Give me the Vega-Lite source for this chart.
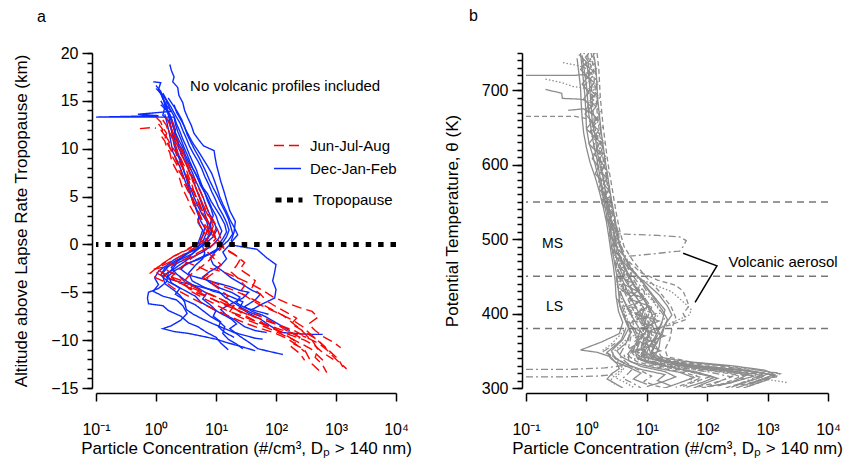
{
"$schema":"https://vega.github.io/schema/vega-lite/v6.json",
"padding":{"left":12,"top":8,"right":5,"bottom":5},
"bounds":"flush",
"spacing":130,
"resolve":{"scale":{"color":"independent","strokeDash":"independent"},"legend":{"color":"independent","strokeDash":"independent"}},
"config":{"font":"Liberation Sans","view":{"stroke":null},
"axis":{"domainColor":"black","domainWidth":1.5,"tickColor":"black","tickWidth":1.5,"labelColor":"black","titleColor":"black","labelFontSize":16,"titleFontSize":17,"titleFontWeight":"normal","grid":false,"labelFont":"Liberation Sans","titleFont":"Liberation Sans"},
"title":{"fontSize":16,"fontWeight":"normal","anchor":"start","font":"Liberation Sans"},
"legend":{"labelFont":"Liberation Sans"}},
"datasets":{
"left":[
{"p":"B1","s":"DJF","x":1.7,"y":18.8},{"p":"B1","s":"DJF","x":1.8,"y":18.2},{"p":"B1","s":"DJF","x":2.0,"y":17.5},{"p":"B1","s":"DJF","x":1.9,"y":17.0},{"p":"B1","s":"DJF","x":2.3,"y":16.4},{"p":"B1","s":"DJF","x":2.4,"y":15.6},{"p":"B1","s":"DJF","x":2.8,"y":14.8},{"p":"B1","s":"DJF","x":3.0,"y":14.0},{"p":"B1","s":"DJF","x":3.4,"y":13.2},{"p":"B1","s":"DJF","x":3.9,"y":12.4},{"p":"B1","s":"DJF","x":4.3,"y":11.6},{"p":"B1","s":"DJF","x":5.2,"y":10.9},{"p":"B1","s":"DJF","x":6.2,"y":10.3},{"p":"B1","s":"DJF","x":9.3,"y":9.8},{"p":"B1","s":"DJF","x":9.6,"y":9.2},{"p":"B1","s":"DJF","x":10.2,"y":8.3},{"p":"B1","s":"DJF","x":11,"y":7.5},{"p":"B1","s":"DJF","x":12,"y":6.6},{"p":"B1","s":"DJF","x":13.5,"y":5.6},{"p":"B1","s":"DJF","x":15,"y":4.6},{"p":"B1","s":"DJF","x":17,"y":3.5},{"p":"B1","s":"DJF","x":21,"y":2.4},{"p":"B1","s":"DJF","x":20,"y":1.3},{"p":"B1","s":"DJF","x":18,"y":0.4},{"p":"B1","s":"DJF","x":20,"y":-0.1},{"p":"B1","s":"DJF","x":30,"y":-0.3},{"p":"B1","s":"DJF","x":48,"y":-0.5},{"p":"B1","s":"DJF","x":70,"y":-1.4},{"p":"B1","s":"DJF","x":100,"y":-2.1},{"p":"B1","s":"DJF","x":95,"y":-2.9},{"p":"B1","s":"DJF","x":88,"y":-3.8},{"p":"B1","s":"DJF","x":100,"y":-4.7},{"p":"B1","s":"DJF","x":95,"y":-5.6},{"p":"B1","s":"DJF","x":60,"y":-6.2},{"p":"B1","s":"DJF","x":40,"y":-6.8},
{"p":"B2","s":"DJF","x":1.0,"y":16.3},{"p":"B2","s":"DJF","x":1.2,"y":15.8},{"p":"B2","s":"DJF","x":1.3,"y":15.2},{"p":"B2","s":"DJF","x":1.5,"y":14.5},{"p":"B2","s":"DJF","x":1.8,"y":13.9},{"p":"B2","s":"DJF","x":0.5,"y":13.6},{"p":"B2","s":"DJF","x":1.1,"y":13.45},{"p":"B2","s":"DJF","x":0.1,"y":13.3},{"p":"B2","s":"DJF","x":2.0,"y":13.3},{"p":"B2","s":"DJF","x":2.1,"y":12.6},{"p":"B2","s":"DJF","x":2.3,"y":11.8},{"p":"B2","s":"DJF","x":2.6,"y":11.0},{"p":"B2","s":"DJF","x":2.9,"y":10.2},{"p":"B2","s":"DJF","x":3.3,"y":9.4},{"p":"B2","s":"DJF","x":3.7,"y":8.6},{"p":"B2","s":"DJF","x":4.2,"y":7.8},{"p":"B2","s":"DJF","x":4.9,"y":7.0},{"p":"B2","s":"DJF","x":5.5,"y":6.2},{"p":"B2","s":"DJF","x":6.5,"y":5.4},{"p":"B2","s":"DJF","x":7.5,"y":4.6},{"p":"B2","s":"DJF","x":8.5,"y":3.8},{"p":"B2","s":"DJF","x":10,"y":3.0},{"p":"B2","s":"DJF","x":11,"y":2.2},{"p":"B2","s":"DJF","x":12.5,"y":1.4},{"p":"B2","s":"DJF","x":11,"y":0.6},{"p":"B2","s":"DJF","x":9,"y":0.0},{"p":"B2","s":"DJF","x":6,"y":-0.8},{"p":"B2","s":"DJF","x":3.5,"y":-1.5},{"p":"B2","s":"DJF","x":2.4,"y":-2.2},{"p":"B2","s":"DJF","x":1.6,"y":-3.0},{"p":"B2","s":"DJF","x":1.5,"y":-3.9},{"p":"B2","s":"DJF","x":1.1,"y":-4.6},{"p":"B2","s":"DJF","x":0.75,"y":-5.0},{"p":"B2","s":"DJF","x":0.72,"y":-5.6},{"p":"B2","s":"DJF","x":0.75,"y":-6.2},{"p":"B2","s":"DJF","x":1.3,"y":-6.4},{"p":"B2","s":"DJF","x":1.6,"y":-6.9},{"p":"B2","s":"DJF","x":2.6,"y":-7.5},{"p":"B2","s":"DJF","x":3.5,"y":-8.2},{"p":"B2","s":"DJF","x":5,"y":-8.6},{"p":"B2","s":"DJF","x":7,"y":-9.2},{"p":"B2","s":"DJF","x":10,"y":-9.7},{"p":"B2","s":"DJF","x":12,"y":-10.3},{"p":"B2","s":"DJF","x":16,"y":-11.0},
{"p":"B3","s":"DJF","x":0.9,"y":17.0},{"p":"B3","s":"DJF","x":1.2,"y":16.9},{"p":"B3","s":"DJF","x":1.1,"y":16.2},{"p":"B3","s":"DJF","x":1.3,"y":15.6},{"p":"B3","s":"DJF","x":1.5,"y":15.0},{"p":"B3","s":"DJF","x":1.4,"y":14.3},{"p":"B3","s":"DJF","x":1.7,"y":13.6},{"p":"B3","s":"DJF","x":1.9,"y":12.8},{"p":"B3","s":"DJF","x":2.1,"y":12.0},{"p":"B3","s":"DJF","x":2.0,"y":11.2},{"p":"B3","s":"DJF","x":2.4,"y":10.5},{"p":"B3","s":"DJF","x":2.8,"y":9.7},{"p":"B3","s":"DJF","x":3.1,"y":9.0},{"p":"B3","s":"DJF","x":3.6,"y":8.2},{"p":"B3","s":"DJF","x":4.1,"y":7.4},{"p":"B3","s":"DJF","x":4.7,"y":6.5},{"p":"B3","s":"DJF","x":5.4,"y":5.7},{"p":"B3","s":"DJF","x":6.2,"y":4.8},{"p":"B3","s":"DJF","x":6.8,"y":4.0},{"p":"B3","s":"DJF","x":7.8,"y":3.2},{"p":"B3","s":"DJF","x":9,"y":2.4},{"p":"B3","s":"DJF","x":10.5,"y":1.6},{"p":"B3","s":"DJF","x":9,"y":0.8},{"p":"B3","s":"DJF","x":7,"y":0.2},{"p":"B3","s":"DJF","x":5,"y":-0.5},{"p":"B3","s":"DJF","x":4,"y":-1.0},{"p":"B3","s":"DJF","x":3.2,"y":-1.5},{"p":"B3","s":"DJF","x":2.2,"y":-2.0},{"p":"B3","s":"DJF","x":1.8,"y":-2.7},{"p":"B3","s":"DJF","x":1.3,"y":-3.3},{"p":"B3","s":"DJF","x":1.4,"y":-4.1},{"p":"B3","s":"DJF","x":2.0,"y":-4.8},{"p":"B3","s":"DJF","x":2.5,"y":-5.3},{"p":"B3","s":"DJF","x":3.0,"y":-6.0},{"p":"B3","s":"DJF","x":3.2,"y":-6.8},{"p":"B3","s":"DJF","x":4.2,"y":-7.3},{"p":"B3","s":"DJF","x":6,"y":-7.8},{"p":"B3","s":"DJF","x":9,"y":-8.3},{"p":"B3","s":"DJF","x":14,"y":-8.8},{"p":"B3","s":"DJF","x":20,"y":-9.2},{"p":"B3","s":"DJF","x":30,"y":-9.5},{"p":"B3","s":"DJF","x":45,"y":-9.8},{"p":"B3","s":"DJF","x":60,"y":-9.9},
{"p":"B4","s":"DJF","x":1.1,"y":16.1},{"p":"B4","s":"DJF","x":1.3,"y":15.4},{"p":"B4","s":"DJF","x":1.4,"y":14.6},{"p":"B4","s":"DJF","x":1.6,"y":13.9},{"p":"B4","s":"DJF","x":1.8,"y":13.1},{"p":"B4","s":"DJF","x":1.9,"y":12.4},{"p":"B4","s":"DJF","x":2.1,"y":11.6},{"p":"B4","s":"DJF","x":2.3,"y":10.8},{"p":"B4","s":"DJF","x":2.4,"y":10.0},{"p":"B4","s":"DJF","x":2.8,"y":9.2},{"p":"B4","s":"DJF","x":3.2,"y":8.5},{"p":"B4","s":"DJF","x":3.6,"y":7.7},{"p":"B4","s":"DJF","x":4.1,"y":6.9},{"p":"B4","s":"DJF","x":4.5,"y":6.1},{"p":"B4","s":"DJF","x":5.0,"y":5.3},{"p":"B4","s":"DJF","x":5.6,"y":4.5},{"p":"B4","s":"DJF","x":6.2,"y":3.7},{"p":"B4","s":"DJF","x":6.8,"y":2.9},{"p":"B4","s":"DJF","x":7.8,"y":2.0},{"p":"B4","s":"DJF","x":8.5,"y":1.2},{"p":"B4","s":"DJF","x":7,"y":0.5},{"p":"B4","s":"DJF","x":6,"y":-0.2},{"p":"B4","s":"DJF","x":6.5,"y":-0.9},{"p":"B4","s":"DJF","x":6,"y":-1.5},{"p":"B4","s":"DJF","x":4.5,"y":-2.2},{"p":"B4","s":"DJF","x":3.5,"y":-3.0},{"p":"B4","s":"DJF","x":4.0,"y":-3.8},{"p":"B4","s":"DJF","x":6,"y":-4.4},{"p":"B4","s":"DJF","x":9,"y":-4.9},{"p":"B4","s":"DJF","x":14,"y":-5.2},{"p":"B4","s":"DJF","x":20,"y":-5.6},{"p":"B4","s":"DJF","x":28,"y":-6.0},{"p":"B4","s":"DJF","x":25,"y":-6.6},{"p":"B4","s":"DJF","x":35,"y":-7.2},{"p":"B4","s":"DJF","x":55,"y":-7.8},{"p":"B4","s":"DJF","x":80,"y":-8.5},{"p":"B4","s":"DJF","x":120,"y":-9.2},{"p":"B4","s":"DJF","x":200,"y":-9.3},{"p":"B4","s":"DJF","x":400,"y":-9.4},{"p":"B4","s":"DJF","x":600,"y":-9.4},
{"p":"B5","s":"DJF","x":1.0,"y":16.6},{"p":"B5","s":"DJF","x":1.2,"y":16.0},{"p":"B5","s":"DJF","x":1.3,"y":15.3},{"p":"B5","s":"DJF","x":1.5,"y":14.5},{"p":"B5","s":"DJF","x":1.6,"y":13.6},{"p":"B5","s":"DJF","x":1.7,"y":12.8},{"p":"B5","s":"DJF","x":1.8,"y":12.0},{"p":"B5","s":"DJF","x":2.0,"y":11.2},{"p":"B5","s":"DJF","x":2.1,"y":10.4},{"p":"B5","s":"DJF","x":2.3,"y":9.6},{"p":"B5","s":"DJF","x":2.6,"y":8.8},{"p":"B5","s":"DJF","x":2.8,"y":8.0},{"p":"B5","s":"DJF","x":3.1,"y":7.2},{"p":"B5","s":"DJF","x":3.4,"y":6.3},{"p":"B5","s":"DJF","x":3.7,"y":5.5},{"p":"B5","s":"DJF","x":4.0,"y":4.7},{"p":"B5","s":"DJF","x":4.6,"y":3.9},{"p":"B5","s":"DJF","x":5.2,"y":3.1},{"p":"B5","s":"DJF","x":5.0,"y":2.3},{"p":"B5","s":"DJF","x":6.0,"y":1.5},{"p":"B5","s":"DJF","x":5.5,"y":0.8},{"p":"B5","s":"DJF","x":5,"y":0.1},{"p":"B5","s":"DJF","x":4,"y":-0.6},{"p":"B5","s":"DJF","x":3,"y":-1.2},{"p":"B5","s":"DJF","x":2.0,"y":-1.8},{"p":"B5","s":"DJF","x":1.4,"y":-2.5},{"p":"B5","s":"DJF","x":1.2,"y":-3.2},{"p":"B5","s":"DJF","x":1.6,"y":-3.9},{"p":"B5","s":"DJF","x":2.3,"y":-4.4},{"p":"B5","s":"DJF","x":3.2,"y":-4.9},{"p":"B5","s":"DJF","x":4.5,"y":-5.4},{"p":"B5","s":"DJF","x":5.5,"y":-6.0},{"p":"B5","s":"DJF","x":8,"y":-6.6},{"p":"B5","s":"DJF","x":12,"y":-7.2},{"p":"B5","s":"DJF","x":18,"y":-7.8},{"p":"B5","s":"DJF","x":22,"y":-8.3},{"p":"B5","s":"DJF","x":17,"y":-8.8},{"p":"B5","s":"DJF","x":25,"y":-9.6},{"p":"B5","s":"DJF","x":35,"y":-10.2},{"p":"B5","s":"DJF","x":50,"y":-10.9},{"p":"B5","s":"DJF","x":80,"y":-11.2},{"p":"B5","s":"DJF","x":130,"y":-11.5},
{"p":"B6","s":"DJF","x":1.3,"y":15.8},{"p":"B6","s":"DJF","x":1.5,"y":15.1},{"p":"B6","s":"DJF","x":1.8,"y":14.3},{"p":"B6","s":"DJF","x":2.1,"y":13.5},{"p":"B6","s":"DJF","x":2.5,"y":12.7},{"p":"B6","s":"DJF","x":2.8,"y":11.9},{"p":"B6","s":"DJF","x":3.2,"y":11.1},{"p":"B6","s":"DJF","x":3.6,"y":10.3},{"p":"B6","s":"DJF","x":4.2,"y":9.5},{"p":"B6","s":"DJF","x":5.0,"y":8.7},{"p":"B6","s":"DJF","x":5.8,"y":7.9},{"p":"B6","s":"DJF","x":6.5,"y":7.1},{"p":"B6","s":"DJF","x":7.5,"y":6.3},{"p":"B6","s":"DJF","x":8.5,"y":5.5},{"p":"B6","s":"DJF","x":9.8,"y":4.7},{"p":"B6","s":"DJF","x":11,"y":3.9},{"p":"B6","s":"DJF","x":13,"y":3.1},{"p":"B6","s":"DJF","x":15,"y":2.3},{"p":"B6","s":"DJF","x":16.5,"y":1.5},{"p":"B6","s":"DJF","x":15,"y":0.8},{"p":"B6","s":"DJF","x":13,"y":0.2},{"p":"B6","s":"DJF","x":12,"y":-0.4},{"p":"B6","s":"DJF","x":8,"y":-1.0},{"p":"B6","s":"DJF","x":5,"y":-1.6},{"p":"B6","s":"DJF","x":3.2,"y":-2.0},{"p":"B6","s":"DJF","x":2.6,"y":-2.6},{"p":"B6","s":"DJF","x":3.5,"y":-3.2},{"p":"B6","s":"DJF","x":6,"y":-3.6},{"p":"B6","s":"DJF","x":10,"y":-4.0},{"p":"B6","s":"DJF","x":17,"y":-4.4},{"p":"B6","s":"DJF","x":25,"y":-4.8},{"p":"B6","s":"DJF","x":35,"y":-5.0},{"p":"B6","s":"DJF","x":28,"y":-5.6},{"p":"B6","s":"DJF","x":18,"y":-6.2},{"p":"B6","s":"DJF","x":12,"y":-6.8},{"p":"B6","s":"DJF","x":15,"y":-7.4},{"p":"B6","s":"DJF","x":22,"y":-8.0},{"p":"B6","s":"DJF","x":30,"y":-8.6},{"p":"B6","s":"DJF","x":45,"y":-9.0},{"p":"B6","s":"DJF","x":70,"y":-9.2},
{"p":"B7","s":"DJF","x":1.5,"y":15.0},{"p":"B7","s":"DJF","x":1.7,"y":14.2},{"p":"B7","s":"DJF","x":2.0,"y":13.4},{"p":"B7","s":"DJF","x":2.2,"y":12.6},{"p":"B7","s":"DJF","x":2.5,"y":11.8},{"p":"B7","s":"DJF","x":2.8,"y":11.0},{"p":"B7","s":"DJF","x":3.2,"y":10.2},{"p":"B7","s":"DJF","x":3.6,"y":9.4},{"p":"B7","s":"DJF","x":4.1,"y":8.6},{"p":"B7","s":"DJF","x":4.7,"y":7.8},{"p":"B7","s":"DJF","x":5.2,"y":7.0},{"p":"B7","s":"DJF","x":5.8,"y":6.2},{"p":"B7","s":"DJF","x":6.5,"y":5.4},{"p":"B7","s":"DJF","x":7.2,"y":4.6},{"p":"B7","s":"DJF","x":8.2,"y":3.8},{"p":"B7","s":"DJF","x":9,"y":3.0},{"p":"B7","s":"DJF","x":8,"y":2.2},{"p":"B7","s":"DJF","x":8.5,"y":1.4},{"p":"B7","s":"DJF","x":7,"y":0.6},{"p":"B7","s":"DJF","x":6,"y":0.0},{"p":"B7","s":"DJF","x":5,"y":-0.5},{"p":"B7","s":"DJF","x":3,"y":-1.0},{"p":"B7","s":"DJF","x":2.0,"y":-1.6},{"p":"B7","s":"DJF","x":1.5,"y":-2.2},{"p":"B7","s":"DJF","x":1.1,"y":-2.8},{"p":"B7","s":"DJF","x":0.95,"y":-3.5},{"p":"B7","s":"DJF","x":1.1,"y":-4.2},{"p":"B7","s":"DJF","x":0.9,"y":-4.9},{"p":"B7","s":"DJF","x":1.3,"y":-5.4},{"p":"B7","s":"DJF","x":2.2,"y":-5.8},{"p":"B7","s":"DJF","x":2.8,"y":-6.4},{"p":"B7","s":"DJF","x":3.3,"y":-7.2},{"p":"B7","s":"DJF","x":2.6,"y":-7.9},{"p":"B7","s":"DJF","x":1.8,"y":-8.5},{"p":"B7","s":"DJF","x":1.3,"y":-8.8},{"p":"B7","s":"DJF","x":2.0,"y":-9.1},{"p":"B7","s":"DJF","x":3.5,"y":-9.3},{"p":"B7","s":"DJF","x":6,"y":-9.6},{"p":"B7","s":"DJF","x":10,"y":-9.9},{"p":"B7","s":"DJF","x":16,"y":-10.3},{"p":"B7","s":"DJF","x":24,"y":-10.6},{"p":"B7","s":"DJF","x":35,"y":-10.9},{"p":"B7","s":"DJF","x":45,"y":-11.1},
{"p":"B8","s":"DJF","x":1.2,"y":14.6},{"p":"B8","s":"DJF","x":1.5,"y":14.0},{"p":"B8","s":"DJF","x":1.7,"y":13.3},{"p":"B8","s":"DJF","x":1.9,"y":12.5},{"p":"B8","s":"DJF","x":2.1,"y":11.7},{"p":"B8","s":"DJF","x":2.4,"y":10.9},{"p":"B8","s":"DJF","x":2.8,"y":10.1},{"p":"B8","s":"DJF","x":3.1,"y":9.3},{"p":"B8","s":"DJF","x":3.6,"y":8.5},{"p":"B8","s":"DJF","x":4.3,"y":7.7},{"p":"B8","s":"DJF","x":5.0,"y":6.9},{"p":"B8","s":"DJF","x":5.8,"y":6.1},{"p":"B8","s":"DJF","x":7.2,"y":5.3},{"p":"B8","s":"DJF","x":8.3,"y":4.5},{"p":"B8","s":"DJF","x":10,"y":3.7},{"p":"B8","s":"DJF","x":12,"y":2.9},{"p":"B8","s":"DJF","x":14,"y":2.1},{"p":"B8","s":"DJF","x":15,"y":1.3},{"p":"B8","s":"DJF","x":13,"y":0.6},{"p":"B8","s":"DJF","x":11,"y":0.0},{"p":"B8","s":"DJF","x":10,"y":-0.7},{"p":"B8","s":"DJF","x":8,"y":-1.4},{"p":"B8","s":"DJF","x":9,"y":-2.1},{"p":"B8","s":"DJF","x":13,"y":-2.8},{"p":"B8","s":"DJF","x":18,"y":-3.5},{"p":"B8","s":"DJF","x":28,"y":-4.2},{"p":"B8","s":"DJF","x":40,"y":-4.8},{"p":"B8","s":"DJF","x":55,"y":-5.2},{"p":"B8","s":"DJF","x":45,"y":-5.8},{"p":"B8","s":"DJF","x":30,"y":-6.5},{"p":"B8","s":"DJF","x":40,"y":-7.0},{"p":"B8","s":"DJF","x":60,"y":-7.4},{"p":"B8","s":"DJF","x":90,"y":-8.0},{"p":"B8","s":"DJF","x":130,"y":-8.6},{"p":"B8","s":"DJF","x":170,"y":-9.0},
{"p":"B9","s":"DJF","x":2.0,"y":14.6},{"p":"B9","s":"DJF","x":2.2,"y":13.8},{"p":"B9","s":"DJF","x":2.6,"y":13.0},{"p":"B9","s":"DJF","x":3.0,"y":12.3},{"p":"B9","s":"DJF","x":3.3,"y":11.5},{"p":"B9","s":"DJF","x":3.8,"y":10.7},{"p":"B9","s":"DJF","x":4.4,"y":9.9},{"p":"B9","s":"DJF","x":5.2,"y":9.1},{"p":"B9","s":"DJF","x":6.0,"y":8.3},{"p":"B9","s":"DJF","x":6.9,"y":7.5},{"p":"B9","s":"DJF","x":7.8,"y":6.7},{"p":"B9","s":"DJF","x":9,"y":5.9},{"p":"B9","s":"DJF","x":10.5,"y":5.1},{"p":"B9","s":"DJF","x":12,"y":4.3},{"p":"B9","s":"DJF","x":14,"y":3.5},{"p":"B9","s":"DJF","x":16,"y":2.7},{"p":"B9","s":"DJF","x":17.5,"y":1.9},{"p":"B9","s":"DJF","x":19,"y":1.1},{"p":"B9","s":"DJF","x":16,"y":0.4},{"p":"B9","s":"DJF","x":12,"y":-0.3},{"p":"B9","s":"DJF","x":8,"y":-0.9},{"p":"B9","s":"DJF","x":5,"y":-1.5},{"p":"B9","s":"DJF","x":3.2,"y":-2.1},{"p":"B9","s":"DJF","x":2.1,"y":-2.7},{"p":"B9","s":"DJF","x":1.6,"y":-3.3},{"p":"B9","s":"DJF","x":1.8,"y":-4.0},{"p":"B9","s":"DJF","x":2.5,"y":-4.6},{"p":"B9","s":"DJF","x":2.1,"y":-5.2},{"p":"B9","s":"DJF","x":3.0,"y":-5.8},{"p":"B9","s":"DJF","x":4.5,"y":-6.3},{"p":"B9","s":"DJF","x":6.0,"y":-6.9},{"p":"B9","s":"DJF","x":8,"y":-7.5},{"p":"B9","s":"DJF","x":11,"y":-8.0},{"p":"B9","s":"DJF","x":14,"y":-8.6},{"p":"B9","s":"DJF","x":13,"y":-9.3},{"p":"B9","s":"DJF","x":16,"y":-9.9},{"p":"B9","s":"DJF","x":22,"y":-10.4},{"p":"B9","s":"DJF","x":28,"y":-10.9},
{"p":"B10","s":"DJF","x":1.4,"y":13.6},{"p":"B10","s":"DJF","x":1.5,"y":12.9},{"p":"B10","s":"DJF","x":1.6,"y":12.1},{"p":"B10","s":"DJF","x":1.7,"y":11.3},{"p":"B10","s":"DJF","x":1.8,"y":10.5},{"p":"B10","s":"DJF","x":1.9,"y":9.7},{"p":"B10","s":"DJF","x":2.2,"y":8.9},{"p":"B10","s":"DJF","x":2.5,"y":8.1},{"p":"B10","s":"DJF","x":2.8,"y":7.3},{"p":"B10","s":"DJF","x":3.1,"y":6.5},{"p":"B10","s":"DJF","x":3.5,"y":5.7},{"p":"B10","s":"DJF","x":3.9,"y":4.9},{"p":"B10","s":"DJF","x":4.4,"y":4.1},{"p":"B10","s":"DJF","x":4.9,"y":3.3},{"p":"B10","s":"DJF","x":5.5,"y":2.5},{"p":"B10","s":"DJF","x":6.5,"y":1.7},{"p":"B10","s":"DJF","x":6,"y":0.9},{"p":"B10","s":"DJF","x":5.5,"y":0.3},{"p":"B10","s":"DJF","x":5,"y":-0.4},{"p":"B10","s":"DJF","x":4,"y":-1.0},{"p":"B10","s":"DJF","x":2.5,"y":-1.6},{"p":"B10","s":"DJF","x":1.6,"y":-2.3},{"p":"B10","s":"DJF","x":1.3,"y":-3.0},{"p":"B10","s":"DJF","x":1.6,"y":-3.6},{"p":"B10","s":"DJF","x":2.8,"y":-4.0},{"p":"B10","s":"DJF","x":4.5,"y":-4.3},{"p":"B10","s":"DJF","x":7,"y":-4.6},{"p":"B10","s":"DJF","x":11,"y":-4.9},{"p":"B10","s":"DJF","x":14,"y":-5.5},{"p":"B10","s":"DJF","x":20,"y":-6.1},{"p":"B10","s":"DJF","x":28,"y":-6.7},{"p":"B10","s":"DJF","x":40,"y":-7.2},{"p":"B10","s":"DJF","x":55,"y":-7.5},
{"p":"B11","s":"DJF","x":1.6,"y":15.3},{"p":"B11","s":"DJF","x":1.9,"y":14.6},{"p":"B11","s":"DJF","x":2.3,"y":13.8},{"p":"B11","s":"DJF","x":2.7,"y":13.0},{"p":"B11","s":"DJF","x":3.0,"y":12.2},{"p":"B11","s":"DJF","x":3.5,"y":11.4},{"p":"B11","s":"DJF","x":4.1,"y":10.6},{"p":"B11","s":"DJF","x":5.0,"y":9.8},{"p":"B11","s":"DJF","x":6.0,"y":9.0},{"p":"B11","s":"DJF","x":7.2,"y":8.2},{"p":"B11","s":"DJF","x":8.5,"y":7.4},{"p":"B11","s":"DJF","x":9.5,"y":6.6},{"p":"B11","s":"DJF","x":10.5,"y":5.8},{"p":"B11","s":"DJF","x":11.5,"y":5.0},{"p":"B11","s":"DJF","x":13,"y":4.2},{"p":"B11","s":"DJF","x":15,"y":3.4},{"p":"B11","s":"DJF","x":17,"y":2.6},{"p":"B11","s":"DJF","x":20,"y":1.8},{"p":"B11","s":"DJF","x":23,"y":1.0},{"p":"B11","s":"DJF","x":19,"y":0.4},{"p":"B11","s":"DJF","x":16,"y":-0.2},{"p":"B11","s":"DJF","x":13,"y":-0.8},{"p":"B11","s":"DJF","x":15,"y":-1.5},{"p":"B11","s":"DJF","x":12,"y":-2.2},{"p":"B11","s":"DJF","x":8,"y":-2.8},{"p":"B11","s":"DJF","x":6,"y":-3.4},{"p":"B11","s":"DJF","x":8,"y":-4.0},{"p":"B11","s":"DJF","x":12,"y":-4.6},{"p":"B11","s":"DJF","x":18,"y":-5.0},{"p":"B11","s":"DJF","x":25,"y":-5.5},{"p":"B11","s":"DJF","x":22,"y":-6.1},{"p":"B11","s":"DJF","x":30,"y":-6.6},{"p":"B11","s":"DJF","x":50,"y":-7.0},{"p":"B11","s":"DJF","x":75,"y":-7.3},
{"p":"B12","s":"DJF","x":1.2,"y":15.0},{"p":"B12","s":"DJF","x":1.4,"y":14.3},{"p":"B12","s":"DJF","x":1.3,"y":13.5},{"p":"B12","s":"DJF","x":1.7,"y":12.8},{"p":"B12","s":"DJF","x":1.8,"y":12.0},{"p":"B12","s":"DJF","x":1.9,"y":11.2},{"p":"B12","s":"DJF","x":2.0,"y":10.4},{"p":"B12","s":"DJF","x":2.2,"y":9.6},{"p":"B12","s":"DJF","x":2.5,"y":8.8},{"p":"B12","s":"DJF","x":2.8,"y":8.0},{"p":"B12","s":"DJF","x":3.1,"y":7.2},{"p":"B12","s":"DJF","x":3.5,"y":6.4},{"p":"B12","s":"DJF","x":3.9,"y":5.6},{"p":"B12","s":"DJF","x":4.4,"y":4.8},{"p":"B12","s":"DJF","x":5.0,"y":4.0},{"p":"B12","s":"DJF","x":5.8,"y":3.2},{"p":"B12","s":"DJF","x":7,"y":2.4},{"p":"B12","s":"DJF","x":7.5,"y":1.6},{"p":"B12","s":"DJF","x":6.5,"y":0.8},{"p":"B12","s":"DJF","x":6,"y":0.2},{"p":"B12","s":"DJF","x":4.5,"y":-0.5},{"p":"B12","s":"DJF","x":3,"y":-1.1},{"p":"B12","s":"DJF","x":2.3,"y":-1.7},{"p":"B12","s":"DJF","x":1.8,"y":-2.4},{"p":"B12","s":"DJF","x":2.2,"y":-3.1},{"p":"B12","s":"DJF","x":3.0,"y":-3.7},{"p":"B12","s":"DJF","x":4.0,"y":-4.2},{"p":"B12","s":"DJF","x":5.5,"y":-4.7},{"p":"B12","s":"DJF","x":7,"y":-5.1},{"p":"B12","s":"DJF","x":6,"y":-5.7},{"p":"B12","s":"DJF","x":8,"y":-6.3},{"p":"B12","s":"DJF","x":10,"y":-6.9},{"p":"B12","s":"DJF","x":9,"y":-7.5},{"p":"B12","s":"DJF","x":12,"y":-8.1},{"p":"B12","s":"DJF","x":11,"y":-8.6},{"p":"B12","s":"DJF","x":14,"y":-9.2},{"p":"B12","s":"DJF","x":20,"y":-9.7},
{"p":"R1","s":"JJA","x":1.0,"y":13.3},{"p":"R1","s":"JJA","x":1.2,"y":12.8},{"p":"R1","s":"JJA","x":1.3,"y":12.2},{"p":"R1","s":"JJA","x":1.5,"y":11.6},{"p":"R1","s":"JJA","x":1.4,"y":11.0},{"p":"R1","s":"JJA","x":1.6,"y":10.4},{"p":"R1","s":"JJA","x":1.8,"y":9.8},{"p":"R1","s":"JJA","x":1.9,"y":9.1},{"p":"R1","s":"JJA","x":2.2,"y":8.4},{"p":"R1","s":"JJA","x":2.4,"y":7.7},{"p":"R1","s":"JJA","x":2.8,"y":7.0},{"p":"R1","s":"JJA","x":3.0,"y":6.3},{"p":"R1","s":"JJA","x":3.4,"y":5.6},{"p":"R1","s":"JJA","x":3.9,"y":4.9},{"p":"R1","s":"JJA","x":4.2,"y":4.2},{"p":"R1","s":"JJA","x":4.8,"y":3.5},{"p":"R1","s":"JJA","x":5.5,"y":2.8},{"p":"R1","s":"JJA","x":6.2,"y":2.1},{"p":"R1","s":"JJA","x":7,"y":1.4},{"p":"R1","s":"JJA","x":6.5,"y":0.7},{"p":"R1","s":"JJA","x":8,"y":0.1},{"p":"R1","s":"JJA","x":6,"y":-0.6},{"p":"R1","s":"JJA","x":4,"y":-1.2},{"p":"R1","s":"JJA","x":2.5,"y":-1.8},{"p":"R1","s":"JJA","x":1.5,"y":-2.3},{"p":"R1","s":"JJA","x":0.9,"y":-2.6},{"p":"R1","s":"JJA","x":1.1,"y":-3.1},{"p":"R1","s":"JJA","x":1.8,"y":-3.6},{"p":"R1","s":"JJA","x":2.5,"y":-4.0},{"p":"R1","s":"JJA","x":3.5,"y":-4.5},{"p":"R1","s":"JJA","x":5,"y":-4.9},{"p":"R1","s":"JJA","x":7,"y":-5.4},{"p":"R1","s":"JJA","x":10,"y":-5.9},{"p":"R1","s":"JJA","x":15,"y":-6.4},{"p":"R1","s":"JJA","x":25,"y":-7.0},{"p":"R1","s":"JJA","x":40,"y":-7.5},{"p":"R1","s":"JJA","x":70,"y":-8.0},{"p":"R1","s":"JJA","x":120,"y":-8.5},{"p":"R1","s":"JJA","x":200,"y":-9.0},{"p":"R1","s":"JJA","x":300,"y":-9.6},{"p":"R1","s":"JJA","x":500,"y":-10.3},{"p":"R1","s":"JJA","x":700,"y":-11.0},{"p":"R1","s":"JJA","x":1000,"y":-12.0},{"p":"R1","s":"JJA","x":1500,"y":-13.0},
{"p":"R2","s":"JJA","x":1.3,"y":13.0},{"p":"R2","s":"JJA","x":1.5,"y":12.4},{"p":"R2","s":"JJA","x":1.6,"y":11.8},{"p":"R2","s":"JJA","x":1.9,"y":11.2},{"p":"R2","s":"JJA","x":2.0,"y":10.6},{"p":"R2","s":"JJA","x":2.2,"y":10.0},{"p":"R2","s":"JJA","x":2.3,"y":9.3},{"p":"R2","s":"JJA","x":2.6,"y":8.6},{"p":"R2","s":"JJA","x":2.9,"y":7.9},{"p":"R2","s":"JJA","x":3.3,"y":7.2},{"p":"R2","s":"JJA","x":3.6,"y":6.5},{"p":"R2","s":"JJA","x":4.0,"y":5.8},{"p":"R2","s":"JJA","x":4.6,"y":5.1},{"p":"R2","s":"JJA","x":5.2,"y":4.4},{"p":"R2","s":"JJA","x":5.8,"y":3.7},{"p":"R2","s":"JJA","x":6.5,"y":3.0},{"p":"R2","s":"JJA","x":7.5,"y":2.3},{"p":"R2","s":"JJA","x":8.5,"y":1.6},{"p":"R2","s":"JJA","x":9.5,"y":0.9},{"p":"R2","s":"JJA","x":10,"y":0.3},{"p":"R2","s":"JJA","x":12,"y":-0.5},{"p":"R2","s":"JJA","x":9,"y":-1.2},{"p":"R2","s":"JJA","x":7,"y":-1.9},{"p":"R2","s":"JJA","x":5,"y":-2.6},{"p":"R2","s":"JJA","x":3.5,"y":-3.3},{"p":"R2","s":"JJA","x":2.8,"y":-4.0},{"p":"R2","s":"JJA","x":3.5,"y":-4.6},{"p":"R2","s":"JJA","x":5,"y":-5.1},{"p":"R2","s":"JJA","x":8,"y":-5.6},{"p":"R2","s":"JJA","x":12,"y":-6.1},{"p":"R2","s":"JJA","x":20,"y":-6.5},{"p":"R2","s":"JJA","x":35,"y":-7.0},{"p":"R2","s":"JJA","x":60,"y":-7.6},{"p":"R2","s":"JJA","x":100,"y":-8.3},{"p":"R2","s":"JJA","x":150,"y":-9.0},{"p":"R2","s":"JJA","x":250,"y":-9.7},{"p":"R2","s":"JJA","x":200,"y":-10.4},{"p":"R2","s":"JJA","x":300,"y":-11.0},{"p":"R2","s":"JJA","x":350,"y":-11.8},{"p":"R2","s":"JJA","x":400,"y":-12.5},{"p":"R2","s":"JJA","x":550,"y":-13.3},
{"p":"R3","s":"JJA","x":1.1,"y":12.6},{"p":"R3","s":"JJA","x":1.3,"y":12.0},{"p":"R3","s":"JJA","x":1.2,"y":11.4},{"p":"R3","s":"JJA","x":1.4,"y":10.8},{"p":"R3","s":"JJA","x":1.5,"y":10.2},{"p":"R3","s":"JJA","x":1.7,"y":9.6},{"p":"R3","s":"JJA","x":1.8,"y":8.9},{"p":"R3","s":"JJA","x":2.0,"y":8.2},{"p":"R3","s":"JJA","x":2.3,"y":7.5},{"p":"R3","s":"JJA","x":2.5,"y":6.8},{"p":"R3","s":"JJA","x":2.7,"y":6.1},{"p":"R3","s":"JJA","x":3.0,"y":5.4},{"p":"R3","s":"JJA","x":3.4,"y":4.7},{"p":"R3","s":"JJA","x":3.7,"y":4.0},{"p":"R3","s":"JJA","x":4.3,"y":3.3},{"p":"R3","s":"JJA","x":5.0,"y":2.6},{"p":"R3","s":"JJA","x":5.5,"y":1.9},{"p":"R3","s":"JJA","x":6.5,"y":1.2},{"p":"R3","s":"JJA","x":5.5,"y":0.5},{"p":"R3","s":"JJA","x":4,"y":-0.2},{"p":"R3","s":"JJA","x":2.5,"y":-0.9},{"p":"R3","s":"JJA","x":1.6,"y":-1.6},{"p":"R3","s":"JJA","x":1.1,"y":-2.3},{"p":"R3","s":"JJA","x":0.8,"y":-3.0},{"p":"R3","s":"JJA","x":1.0,"y":-3.5},{"p":"R3","s":"JJA","x":1.5,"y":-4.0},{"p":"R3","s":"JJA","x":2.0,"y":-4.6},{"p":"R3","s":"JJA","x":3.0,"y":-5.2},{"p":"R3","s":"JJA","x":4.5,"y":-5.8},{"p":"R3","s":"JJA","x":7,"y":-6.4},{"p":"R3","s":"JJA","x":11,"y":-7.0},{"p":"R3","s":"JJA","x":18,"y":-7.6},{"p":"R3","s":"JJA","x":30,"y":-8.2},{"p":"R3","s":"JJA","x":50,"y":-8.7},{"p":"R3","s":"JJA","x":90,"y":-9.2},{"p":"R3","s":"JJA","x":150,"y":-9.8},{"p":"R3","s":"JJA","x":220,"y":-10.5},{"p":"R3","s":"JJA","x":300,"y":-11.2},
{"p":"R4","s":"JJA","x":1.5,"y":13.2},{"p":"R4","s":"JJA","x":1.7,"y":12.5},{"p":"R4","s":"JJA","x":1.8,"y":11.9},{"p":"R4","s":"JJA","x":2.1,"y":11.3},{"p":"R4","s":"JJA","x":2.3,"y":10.7},{"p":"R4","s":"JJA","x":2.5,"y":10.1},{"p":"R4","s":"JJA","x":2.8,"y":9.4},{"p":"R4","s":"JJA","x":3.0,"y":8.7},{"p":"R4","s":"JJA","x":3.4,"y":8.0},{"p":"R4","s":"JJA","x":3.8,"y":7.3},{"p":"R4","s":"JJA","x":4.1,"y":6.6},{"p":"R4","s":"JJA","x":4.6,"y":5.9},{"p":"R4","s":"JJA","x":5.2,"y":5.2},{"p":"R4","s":"JJA","x":5.7,"y":4.5},{"p":"R4","s":"JJA","x":6.5,"y":3.8},{"p":"R4","s":"JJA","x":7.5,"y":3.1},{"p":"R4","s":"JJA","x":8.5,"y":2.4},{"p":"R4","s":"JJA","x":10,"y":1.7},{"p":"R4","s":"JJA","x":9,"y":1.0},{"p":"R4","s":"JJA","x":11,"y":0.4},{"p":"R4","s":"JJA","x":14,"y":-0.4},{"p":"R4","s":"JJA","x":20,"y":-1.0},{"p":"R4","s":"JJA","x":25,"y":-1.6},{"p":"R4","s":"JJA","x":22,"y":-2.2},{"p":"R4","s":"JJA","x":18,"y":-2.9},{"p":"R4","s":"JJA","x":24,"y":-3.6},{"p":"R4","s":"JJA","x":30,"y":-4.3},{"p":"R4","s":"JJA","x":25,"y":-5.0},{"p":"R4","s":"JJA","x":35,"y":-5.6},{"p":"R4","s":"JJA","x":50,"y":-6.2},{"p":"R4","s":"JJA","x":80,"y":-6.8},{"p":"R4","s":"JJA","x":130,"y":-7.4},{"p":"R4","s":"JJA","x":200,"y":-8.0},{"p":"R4","s":"JJA","x":280,"y":-8.6},{"p":"R4","s":"JJA","x":350,"y":-9.2},{"p":"R4","s":"JJA","x":450,"y":-9.8},{"p":"R4","s":"JJA","x":600,"y":-10.5},{"p":"R4","s":"JJA","x":800,"y":-11.2},{"p":"R4","s":"JJA","x":1100,"y":-12.0},{"p":"R4","s":"JJA","x":1300,"y":-12.8},
{"p":"R5","s":"JJA","x":0.54,"y":12.1},{"p":"R5","s":"JJA","x":0.8,"y":12.2},{"p":"R5","s":"JJA","x":1.0,"y":12.15},
{"p":"R6","s":"JJA","x":1.7,"y":12.5},{"p":"R6","s":"JJA","x":1.9,"y":11.8},{"p":"R6","s":"JJA","x":2.0,"y":11.0},{"p":"R6","s":"JJA","x":2.3,"y":10.3},{"p":"R6","s":"JJA","x":2.5,"y":9.6},{"p":"R6","s":"JJA","x":2.9,"y":8.9},{"p":"R6","s":"JJA","x":3.3,"y":8.2},{"p":"R6","s":"JJA","x":3.6,"y":7.5},{"p":"R6","s":"JJA","x":4.0,"y":6.8},{"p":"R6","s":"JJA","x":4.5,"y":6.1},{"p":"R6","s":"JJA","x":5.0,"y":5.4},{"p":"R6","s":"JJA","x":5.6,"y":4.7},{"p":"R6","s":"JJA","x":6.1,"y":4.0},{"p":"R6","s":"JJA","x":7,"y":3.3},{"p":"R6","s":"JJA","x":8,"y":2.6},{"p":"R6","s":"JJA","x":9,"y":1.9},{"p":"R6","s":"JJA","x":8,"y":1.2},{"p":"R6","s":"JJA","x":10,"y":0.6},{"p":"R6","s":"JJA","x":8,"y":0.0},{"p":"R6","s":"JJA","x":6,"y":-0.7},{"p":"R6","s":"JJA","x":4,"y":-1.4},{"p":"R6","s":"JJA","x":3,"y":-2.1},{"p":"R6","s":"JJA","x":2.2,"y":-2.8},{"p":"R6","s":"JJA","x":1.8,"y":-3.4},{"p":"R6","s":"JJA","x":2.4,"y":-4.0},{"p":"R6","s":"JJA","x":3.5,"y":-4.4},{"p":"R6","s":"JJA","x":5,"y":-4.8},{"p":"R6","s":"JJA","x":8,"y":-5.2},{"p":"R6","s":"JJA","x":12,"y":-5.7},{"p":"R6","s":"JJA","x":16,"y":-6.2},{"p":"R6","s":"JJA","x":22,"y":-6.8},{"p":"R6","s":"JJA","x":30,"y":-7.4},{"p":"R6","s":"JJA","x":45,"y":-8.0},{"p":"R6","s":"JJA","x":70,"y":-8.5},{"p":"R6","s":"JJA","x":110,"y":-9.0},{"p":"R6","s":"JJA","x":180,"y":-9.5},{"p":"R6","s":"JJA","x":300,"y":-10.0},{"p":"R6","s":"JJA","x":450,"y":-10.6},{"p":"R6","s":"JJA","x":600,"y":-11.3},{"p":"R6","s":"JJA","x":900,"y":-12.0},
{"p":"R7","s":"JJA","x":1.2,"y":12.0},{"p":"R7","s":"JJA","x":1.4,"y":11.4},{"p":"R7","s":"JJA","x":1.6,"y":10.8},{"p":"R7","s":"JJA","x":1.7,"y":10.1},{"p":"R7","s":"JJA","x":2.0,"y":9.4},{"p":"R7","s":"JJA","x":2.2,"y":8.7},{"p":"R7","s":"JJA","x":2.5,"y":8.0},{"p":"R7","s":"JJA","x":2.7,"y":7.3},{"p":"R7","s":"JJA","x":3.1,"y":6.6},{"p":"R7","s":"JJA","x":3.5,"y":5.9},{"p":"R7","s":"JJA","x":3.9,"y":5.2},{"p":"R7","s":"JJA","x":4.3,"y":4.5},{"p":"R7","s":"JJA","x":4.9,"y":3.8},{"p":"R7","s":"JJA","x":5.4,"y":3.1},{"p":"R7","s":"JJA","x":6.0,"y":2.4},{"p":"R7","s":"JJA","x":7.2,"y":1.7},{"p":"R7","s":"JJA","x":8,"y":1.0},{"p":"R7","s":"JJA","x":7,"y":0.4},{"p":"R7","s":"JJA","x":4.5,"y":-0.3},{"p":"R7","s":"JJA","x":3,"y":-1.0},{"p":"R7","s":"JJA","x":2.0,"y":-1.6},{"p":"R7","s":"JJA","x":1.3,"y":-2.2},{"p":"R7","s":"JJA","x":1.6,"y":-2.8},{"p":"R7","s":"JJA","x":2.4,"y":-3.3},{"p":"R7","s":"JJA","x":3.0,"y":-3.9},{"p":"R7","s":"JJA","x":4.2,"y":-4.4},{"p":"R7","s":"JJA","x":6,"y":-4.9},{"p":"R7","s":"JJA","x":9,"y":-5.4},{"p":"R7","s":"JJA","x":14,"y":-5.9},{"p":"R7","s":"JJA","x":20,"y":-6.4},{"p":"R7","s":"JJA","x":17,"y":-7.0},{"p":"R7","s":"JJA","x":25,"y":-7.6},{"p":"R7","s":"JJA","x":40,"y":-8.1},{"p":"R7","s":"JJA","x":65,"y":-8.6},{"p":"R7","s":"JJA","x":100,"y":-9.1},{"p":"R7","s":"JJA","x":160,"y":-9.7},{"p":"R7","s":"JJA","x":250,"y":-10.3},{"p":"R7","s":"JJA","x":380,"y":-10.9},{"p":"R7","s":"JJA","x":500,"y":-11.6},{"p":"R7","s":"JJA","x":650,"y":-12.3},
{"p":"R8","s":"JJA","x":1.4,"y":11.5},{"p":"R8","s":"JJA","x":1.6,"y":10.9},{"p":"R8","s":"JJA","x":1.8,"y":10.3},{"p":"R8","s":"JJA","x":2.1,"y":9.7},{"p":"R8","s":"JJA","x":2.3,"y":9.0},{"p":"R8","s":"JJA","x":2.6,"y":8.3},{"p":"R8","s":"JJA","x":3.0,"y":7.6},{"p":"R8","s":"JJA","x":3.3,"y":6.9},{"p":"R8","s":"JJA","x":3.7,"y":6.2},{"p":"R8","s":"JJA","x":4.2,"y":5.5},{"p":"R8","s":"JJA","x":4.7,"y":4.8},{"p":"R8","s":"JJA","x":5.2,"y":4.1},{"p":"R8","s":"JJA","x":5.9,"y":3.4},{"p":"R8","s":"JJA","x":6.8,"y":2.7},{"p":"R8","s":"JJA","x":7.8,"y":2.0},{"p":"R8","s":"JJA","x":9,"y":1.3},{"p":"R8","s":"JJA","x":10,"y":0.6},{"p":"R8","s":"JJA","x":11,"y":0.0},{"p":"R8","s":"JJA","x":15,"y":-0.6},{"p":"R8","s":"JJA","x":22,"y":-1.2},{"p":"R8","s":"JJA","x":30,"y":-1.9},{"p":"R8","s":"JJA","x":25,"y":-2.6},{"p":"R8","s":"JJA","x":35,"y":-3.2},{"p":"R8","s":"JJA","x":45,"y":-3.8},{"p":"R8","s":"JJA","x":40,"y":-4.5},{"p":"R8","s":"JJA","x":55,"y":-5.2},{"p":"R8","s":"JJA","x":70,"y":-5.9},{"p":"R8","s":"JJA","x":100,"y":-6.5},{"p":"R8","s":"JJA","x":150,"y":-7.1},{"p":"R8","s":"JJA","x":220,"y":-7.7},{"p":"R8","s":"JJA","x":180,"y":-8.3},{"p":"R8","s":"JJA","x":260,"y":-8.9},{"p":"R8","s":"JJA","x":350,"y":-9.4},{"p":"R8","s":"JJA","x":500,"y":-10.0},{"p":"R8","s":"JJA","x":650,"y":-10.7},{"p":"R8","s":"JJA","x":800,"y":-11.4},
{"p":"R9","s":"JJA","x":1.8,"y":13.0},{"p":"R9","s":"JJA","x":2.0,"y":12.3},{"p":"R9","s":"JJA","x":1.9,"y":11.6},{"p":"R9","s":"JJA","x":2.2,"y":11.0},{"p":"R9","s":"JJA","x":2.5,"y":10.4},{"p":"R9","s":"JJA","x":2.8,"y":9.7},{"p":"R9","s":"JJA","x":3.1,"y":9.0},{"p":"R9","s":"JJA","x":3.5,"y":8.3},{"p":"R9","s":"JJA","x":3.9,"y":7.6},{"p":"R9","s":"JJA","x":4.3,"y":6.9},{"p":"R9","s":"JJA","x":4.8,"y":6.2},{"p":"R9","s":"JJA","x":5.5,"y":5.5},{"p":"R9","s":"JJA","x":6.2,"y":4.8},{"p":"R9","s":"JJA","x":6.8,"y":4.1},{"p":"R9","s":"JJA","x":7.5,"y":3.4},{"p":"R9","s":"JJA","x":8.7,"y":2.7},{"p":"R9","s":"JJA","x":10,"y":2.0},{"p":"R9","s":"JJA","x":11,"y":1.3},{"p":"R9","s":"JJA","x":12,"y":0.6},{"p":"R9","s":"JJA","x":9,"y":0.0},{"p":"R9","s":"JJA","x":7,"y":-0.7},{"p":"R9","s":"JJA","x":9,"y":-1.4},{"p":"R9","s":"JJA","x":12,"y":-2.1},{"p":"R9","s":"JJA","x":10,"y":-2.8},{"p":"R9","s":"JJA","x":7,"y":-3.5},{"p":"R9","s":"JJA","x":9,"y":-4.2},{"p":"R9","s":"JJA","x":12,"y":-4.8},{"p":"R9","s":"JJA","x":16,"y":-5.4},{"p":"R9","s":"JJA","x":12,"y":-6.0},{"p":"R9","s":"JJA","x":18,"y":-6.6},{"p":"R9","s":"JJA","x":28,"y":-7.1},{"p":"R9","s":"JJA","x":45,"y":-7.6},{"p":"R9","s":"JJA","x":60,"y":-8.2},{"p":"R9","s":"JJA","x":90,"y":-8.8},{"p":"R9","s":"JJA","x":140,"y":-9.4},{"p":"R9","s":"JJA","x":200,"y":-10.0},{"p":"R9","s":"JJA","x":180,"y":-10.7},{"p":"R9","s":"JJA","x":250,"y":-11.4},{"p":"R9","s":"JJA","x":300,"y":-12.1},
{"p":"R10","s":"JJA","x":1.6,"y":12.0},{"p":"R10","s":"JJA","x":1.8,"y":11.3},{"p":"R10","s":"JJA","x":2.0,"y":10.6},{"p":"R10","s":"JJA","x":2.2,"y":9.9},{"p":"R10","s":"JJA","x":2.5,"y":9.2},{"p":"R10","s":"JJA","x":2.8,"y":8.5},{"p":"R10","s":"JJA","x":3.2,"y":7.8},{"p":"R10","s":"JJA","x":3.5,"y":7.1},{"p":"R10","s":"JJA","x":3.9,"y":6.4},{"p":"R10","s":"JJA","x":4.2,"y":5.7},{"p":"R10","s":"JJA","x":4.7,"y":5.0},{"p":"R10","s":"JJA","x":5.3,"y":4.3},{"p":"R10","s":"JJA","x":5.6,"y":3.6},{"p":"R10","s":"JJA","x":6.5,"y":2.9},{"p":"R10","s":"JJA","x":7.3,"y":2.2},{"p":"R10","s":"JJA","x":8,"y":1.5},{"p":"R10","s":"JJA","x":7,"y":0.8},{"p":"R10","s":"JJA","x":5.5,"y":0.2},{"p":"R10","s":"JJA","x":3.5,"y":-0.5},{"p":"R10","s":"JJA","x":2.0,"y":-1.2},{"p":"R10","s":"JJA","x":1.4,"y":-1.9},{"p":"R10","s":"JJA","x":1.0,"y":-2.5},{"p":"R10","s":"JJA","x":1.3,"y":-3.0},{"p":"R10","s":"JJA","x":2.0,"y":-3.5},{"p":"R10","s":"JJA","x":3,"y":-3.9},{"p":"R10","s":"JJA","x":4,"y":-4.3},{"p":"R10","s":"JJA","x":3.6,"y":-4.8},{"p":"R10","s":"JJA","x":5,"y":-5.3},{"p":"R10","s":"JJA","x":7,"y":-5.8},{"p":"R10","s":"JJA","x":10,"y":-6.3},{"p":"R10","s":"JJA","x":15,"y":-6.9},{"p":"R10","s":"JJA","x":25,"y":-7.4},{"p":"R10","s":"JJA","x":40,"y":-7.9},{"p":"R10","s":"JJA","x":70,"y":-8.4},{"p":"R10","s":"JJA","x":120,"y":-8.9},{"p":"R10","s":"JJA","x":200,"y":-9.3},{"p":"R10","s":"JJA","x":320,"y":-9.7},
{"p":"R11","s":"JJA","x":8,"y":-2.5},{"p":"R11","s":"JJA","x":15,"y":-3.0},{"p":"R11","s":"JJA","x":25,"y":-3.6},{"p":"R11","s":"JJA","x":40,"y":-4.2},{"p":"R11","s":"JJA","x":60,"y":-4.8},{"p":"R11","s":"JJA","x":90,"y":-5.5},{"p":"R11","s":"JJA","x":150,"y":-6.1},{"p":"R11","s":"JJA","x":250,"y":-6.6},{"p":"R11","s":"JJA","x":400,"y":-7.0},{"p":"R11","s":"JJA","x":500,"y":-7.6},{"p":"R11","s":"JJA","x":350,"y":-8.3},{"p":"R11","s":"JJA","x":450,"y":-9.0},{"p":"R11","s":"JJA","x":600,"y":-9.6},{"p":"R11","s":"JJA","x":900,"y":-10.2},{"p":"R11","s":"JJA","x":1200,"y":-10.8},
{"p":"R12","s":"JJA","x":3,"y":-1.8},{"p":"R12","s":"JJA","x":5,"y":-2.3},{"p":"R12","s":"JJA","x":8,"y":-2.9},{"p":"R12","s":"JJA","x":6,"y":-3.5},{"p":"R12","s":"JJA","x":10,"y":-4.1},{"p":"R12","s":"JJA","x":18,"y":-4.7},{"p":"R12","s":"JJA","x":30,"y":-5.3},{"p":"R12","s":"JJA","x":50,"y":-6.0},{"p":"R12","s":"JJA","x":80,"y":-6.7},{"p":"R12","s":"JJA","x":130,"y":-7.4},{"p":"R12","s":"JJA","x":180,"y":-8.1},{"p":"R12","s":"JJA","x":250,"y":-8.8},{"p":"R12","s":"JJA","x":320,"y":-9.5},{"p":"R12","s":"JJA","x":420,"y":-10.2},{"p":"R12","s":"JJA","x":500,"y":-11.0},{"p":"R12","s":"JJA","x":450,"y":-11.8},{"p":"R12","s":"JJA","x":600,"y":-12.6},{"p":"R12","s":"JJA","x":700,"y":-13.4}
],
"right":[
{"p":"U1","g":"A","x":0.8,"y":750},{"p":"U1","g":"A","x":0.85,"y":730},{"p":"U1","g":"A","x":0.9,"y":710},{"p":"U1","g":"A","x":0.95,"y":690},{"p":"U1","g":"A","x":0.98,"y":670},{"p":"U1","g":"A","x":1.0,"y":650},{"p":"U1","g":"A","x":1.1,"y":630},{"p":"U1","g":"A","x":1.3,"y":610},{"p":"U1","g":"A","x":1.5,"y":590},{"p":"U1","g":"A","x":1.75,"y":570},{"p":"U1","g":"A","x":1.95,"y":550},{"p":"U1","g":"A","x":2.2,"y":530},{"p":"U1","g":"A","x":2.45,"y":510},{"p":"U1","g":"A","x":2.6,"y":490},{"p":"U1","g":"A","x":2.9,"y":470},{"p":"U1","g":"A","x":3.2,"y":450},{"p":"U1","g":"A","x":3.4,"y":430},{"p":"U1","g":"A","x":3.6,"y":410},{"p":"U1","g":"A","x":4.2,"y":395},{"p":"U1","g":"A","x":5,"y":380},{"p":"U1","g":"A","x":4,"y":365},{"p":"U1","g":"A","x":2.6,"y":350},{"p":"U1","g":"A","x":3,"y":340},{"p":"U1","g":"A","x":4.5,"y":332},{"p":"U1","g":"A","x":8,"y":325},{"p":"U1","g":"A","x":20,"y":318},{"p":"U1","g":"A","x":15,"y":310},{"p":"U1","g":"A","x":25,"y":303},
{"p":"U2","g":"B","x":1.05,"y":748},{"p":"U2","g":"B","x":1.1,"y":728},{"p":"U2","g":"B","x":1.2,"y":708},{"p":"U2","g":"B","x":1.25,"y":688},{"p":"U2","g":"B","x":1.3,"y":668},{"p":"U2","g":"B","x":1.4,"y":648},{"p":"U2","g":"B","x":1.55,"y":628},{"p":"U2","g":"B","x":1.7,"y":608},{"p":"U2","g":"B","x":1.85,"y":588},{"p":"U2","g":"B","x":2.05,"y":568},{"p":"U2","g":"B","x":2.3,"y":548},{"p":"U2","g":"B","x":2.6,"y":528},{"p":"U2","g":"B","x":2.9,"y":508},{"p":"U2","g":"B","x":3.2,"y":488},{"p":"U2","g":"B","x":3.8,"y":468},{"p":"U2","g":"B","x":5,"y":448},{"p":"U2","g":"B","x":8,"y":428},{"p":"U2","g":"B","x":12,"y":408},{"p":"U2","g":"B","x":10,"y":393},{"p":"U2","g":"B","x":12,"y":378},{"p":"U2","g":"B","x":9,"y":363},{"p":"U2","g":"B","x":7,"y":348},{"p":"U2","g":"B","x":8,"y":338},{"p":"U2","g":"B","x":15,"y":330},{"p":"U2","g":"B","x":40,"y":323},{"p":"U2","g":"B","x":120,"y":316},{"p":"U2","g":"B","x":60,"y":308},{"p":"U2","g":"B","x":40,"y":302},
{"p":"U3","g":"A","x":1.35,"y":745},{"p":"U3","g":"A","x":1.45,"y":725},{"p":"U3","g":"A","x":1.5,"y":705},{"p":"U3","g":"A","x":1.55,"y":685},{"p":"U3","g":"A","x":1.65,"y":665},{"p":"U3","g":"A","x":1.75,"y":645},{"p":"U3","g":"A","x":1.9,"y":625},{"p":"U3","g":"A","x":2.05,"y":605},{"p":"U3","g":"A","x":2.25,"y":585},{"p":"U3","g":"A","x":2.45,"y":565},{"p":"U3","g":"A","x":2.7,"y":545},{"p":"U3","g":"A","x":3.0,"y":525},{"p":"U3","g":"A","x":3.3,"y":505},{"p":"U3","g":"A","x":3.8,"y":485},{"p":"U3","g":"A","x":5,"y":465},{"p":"U3","g":"A","x":8,"y":445},{"p":"U3","g":"A","x":12,"y":425},{"p":"U3","g":"A","x":18,"y":405},{"p":"U3","g":"A","x":22,"y":392},{"p":"U3","g":"A","x":18,"y":377},{"p":"U3","g":"A","x":15,"y":362},{"p":"U3","g":"A","x":12,"y":348},{"p":"U3","g":"A","x":15,"y":338},{"p":"U3","g":"A","x":40,"y":330},{"p":"U3","g":"A","x":200,"y":323},{"p":"U3","g":"A","x":600,"y":316},{"p":"U3","g":"A","x":300,"y":309},{"p":"U3","g":"A","x":150,"y":303},
{"p":"U4","g":"C","x":0.9,"y":750},{"p":"U4","g":"C","x":1.3,"y":735},{"p":"U4","g":"C","x":0.95,"y":720},{"p":"U4","g":"C","x":1.4,"y":700},{"p":"U4","g":"C","x":1.05,"y":680},{"p":"U4","g":"C","x":1.5,"y":660},{"p":"U4","g":"C","x":1.2,"y":640},{"p":"U4","g":"C","x":1.8,"y":620},{"p":"U4","g":"C","x":1.5,"y":600},{"p":"U4","g":"C","x":2.2,"y":580},{"p":"U4","g":"C","x":1.8,"y":560},{"p":"U4","g":"C","x":2.6,"y":540},{"p":"U4","g":"C","x":2.3,"y":520},{"p":"U4","g":"C","x":3.2,"y":500},{"p":"U4","g":"C","x":2.8,"y":480},{"p":"U4","g":"C","x":4.5,"y":460},{"p":"U4","g":"C","x":3.5,"y":440},{"p":"U4","g":"C","x":8,"y":420},{"p":"U4","g":"C","x":5,"y":400},{"p":"U4","g":"C","x":12,"y":385},{"p":"U4","g":"C","x":6,"y":370},{"p":"U4","g":"C","x":10,"y":355},{"p":"U4","g":"C","x":4,"y":343},{"p":"U4","g":"C","x":12,"y":334},{"p":"U4","g":"C","x":30,"y":327},{"p":"U4","g":"C","x":80,"y":320},{"p":"U4","g":"C","x":50,"y":312},{"p":"U4","g":"C","x":100,"y":305},
{"p":"U5","g":"B","x":1.2,"y":750},{"p":"U5","g":"B","x":1.3,"y":732},{"p":"U5","g":"B","x":1.35,"y":712},{"p":"U5","g":"B","x":1.45,"y":692},{"p":"U5","g":"B","x":1.5,"y":672},{"p":"U5","g":"B","x":1.6,"y":652},{"p":"U5","g":"B","x":1.7,"y":632},{"p":"U5","g":"B","x":1.85,"y":612},{"p":"U5","g":"B","x":2.05,"y":592},{"p":"U5","g":"B","x":2.25,"y":572},{"p":"U5","g":"B","x":2.5,"y":552},{"p":"U5","g":"B","x":2.8,"y":532},{"p":"U5","g":"B","x":3.1,"y":512},{"p":"U5","g":"B","x":3.5,"y":492},{"p":"U5","g":"B","x":4.2,"y":472},{"p":"U5","g":"B","x":5.5,"y":452},{"p":"U5","g":"B","x":7.5,"y":432},{"p":"U5","g":"B","x":10,"y":412},{"p":"U5","g":"B","x":12,"y":397},{"p":"U5","g":"B","x":10,"y":382},{"p":"U5","g":"B","x":9,"y":367},{"p":"U5","g":"B","x":8,"y":352},{"p":"U5","g":"B","x":9,"y":342},{"p":"U5","g":"B","x":20,"y":334},{"p":"U5","g":"B","x":60,"y":327},{"p":"U5","g":"B","x":250,"y":320},{"p":"U5","g":"B","x":400,"y":313},{"p":"U5","g":"B","x":200,"y":306},{"p":"U5","g":"B","x":80,"y":300},
{"p":"U6","g":"A","x":0.85,"y":747},{"p":"U6","g":"A","x":0.92,"y":727},{"p":"U6","g":"A","x":1.0,"y":707},{"p":"U6","g":"A","x":1.05,"y":687},{"p":"U6","g":"A","x":1.1,"y":667},{"p":"U6","g":"A","x":1.2,"y":647},{"p":"U6","g":"A","x":1.32,"y":627},{"p":"U6","g":"A","x":1.5,"y":607},{"p":"U6","g":"A","x":1.65,"y":587},{"p":"U6","g":"A","x":1.85,"y":567},{"p":"U6","g":"A","x":2.1,"y":547},{"p":"U6","g":"A","x":2.4,"y":527},{"p":"U6","g":"A","x":2.6,"y":507},{"p":"U6","g":"A","x":2.9,"y":487},{"p":"U6","g":"A","x":3.3,"y":467},{"p":"U6","g":"A","x":4.2,"y":447},{"p":"U6","g":"A","x":6,"y":427},{"p":"U6","g":"A","x":9,"y":407},{"p":"U6","g":"A","x":8,"y":392},{"p":"U6","g":"A","x":10,"y":377},{"p":"U6","g":"A","x":7,"y":362},{"p":"U6","g":"A","x":5,"y":347},{"p":"U6","g":"A","x":5,"y":337},{"p":"U6","g":"A","x":8,"y":329},{"p":"U6","g":"A","x":20,"y":322},{"p":"U6","g":"A","x":30,"y":315},{"p":"U6","g":"A","x":18,"y":308},{"p":"U6","g":"A","x":10,"y":302},
{"p":"U7","g":"D","x":1.3,"y":750},{"p":"U7","g":"D","x":1.4,"y":730},{"p":"U7","g":"D","x":1.45,"y":710},{"p":"U7","g":"D","x":1.5,"y":690},{"p":"U7","g":"D","x":1.6,"y":670},{"p":"U7","g":"D","x":1.7,"y":650},{"p":"U7","g":"D","x":1.8,"y":630},{"p":"U7","g":"D","x":1.95,"y":610},{"p":"U7","g":"D","x":2.15,"y":590},{"p":"U7","g":"D","x":2.35,"y":570},{"p":"U7","g":"D","x":2.6,"y":550},{"p":"U7","g":"D","x":2.9,"y":530},{"p":"U7","g":"D","x":3.3,"y":510},{"p":"U7","g":"D","x":3.8,"y":490},{"p":"U7","g":"D","x":4.8,"y":470},{"p":"U7","g":"D","x":7,"y":450},{"p":"U7","g":"D","x":10,"y":430},{"p":"U7","g":"D","x":15,"y":410},{"p":"U7","g":"D","x":20,"y":395},{"p":"U7","g":"D","x":16,"y":380},{"p":"U7","g":"D","x":14,"y":365},{"p":"U7","g":"D","x":12,"y":350},{"p":"U7","g":"D","x":14,"y":340},{"p":"U7","g":"D","x":35,"y":332},{"p":"U7","g":"D","x":150,"y":325},{"p":"U7","g":"D","x":800,"y":318},{"p":"U7","g":"D","x":500,"y":311},{"p":"U7","g":"D","x":300,"y":304},
{"p":"U8","g":"A","x":0.7,"y":743},{"p":"U8","g":"A","x":0.75,"y":723},{"p":"U8","g":"A","x":0.8,"y":703},{"p":"U8","g":"A","x":0.82,"y":683},{"p":"U8","g":"A","x":0.85,"y":663},{"p":"U8","g":"A","x":0.9,"y":643},{"p":"U8","g":"A","x":1.0,"y":623},{"p":"U8","g":"A","x":1.15,"y":603},{"p":"U8","g":"A","x":1.4,"y":583},{"p":"U8","g":"A","x":1.65,"y":563},{"p":"U8","g":"A","x":1.9,"y":543},{"p":"U8","g":"A","x":2.15,"y":523},{"p":"U8","g":"A","x":2.35,"y":503},{"p":"U8","g":"A","x":2.55,"y":483},{"p":"U8","g":"A","x":2.8,"y":463},{"p":"U8","g":"A","x":3.0,"y":443},{"p":"U8","g":"A","x":3.1,"y":423},{"p":"U8","g":"A","x":3.4,"y":403},{"p":"U8","g":"A","x":4,"y":388},{"p":"U8","g":"A","x":3.5,"y":373},{"p":"U8","g":"A","x":1.8,"y":362},{"p":"U8","g":"A","x":0.8,"y":351},{"p":"U8","g":"A","x":1.5,"y":348},{"p":"U8","g":"A","x":2.5,"y":342},{"p":"U8","g":"A","x":3,"y":335},{"p":"U8","g":"A","x":5,"y":328},{"p":"U8","g":"A","x":8,"y":320},{"p":"U8","g":"A","x":6,"y":312},{"p":"U8","g":"A","x":10,"y":305},
{"p":"U9","g":"B","x":1.5,"y":750},{"p":"U9","g":"B","x":1.6,"y":730},{"p":"U9","g":"B","x":1.65,"y":710},{"p":"U9","g":"B","x":1.7,"y":690},{"p":"U9","g":"B","x":1.8,"y":670},{"p":"U9","g":"B","x":1.9,"y":650},{"p":"U9","g":"B","x":2.05,"y":630},{"p":"U9","g":"B","x":2.2,"y":610},{"p":"U9","g":"B","x":2.4,"y":590},{"p":"U9","g":"B","x":2.65,"y":570},{"p":"U9","g":"B","x":2.9,"y":550},{"p":"U9","g":"B","x":3.2,"y":530},{"p":"U9","g":"B","x":3.6,"y":510},{"p":"U9","g":"B","x":4.2,"y":490},{"p":"U9","g":"B","x":6,"y":470},{"p":"U9","g":"B","x":9.5,"y":450},{"p":"U9","g":"B","x":16,"y":430},{"p":"U9","g":"B","x":25,"y":410},{"p":"U9","g":"B","x":30,"y":395},{"p":"U9","g":"B","x":26,"y":380},{"p":"U9","g":"B","x":24,"y":365},{"p":"U9","g":"B","x":20,"y":352},{"p":"U9","g":"B","x":22,"y":342},{"p":"U9","g":"B","x":60,"y":334},{"p":"U9","g":"B","x":400,"y":327},{"p":"U9","g":"B","x":1500,"y":320},{"p":"U9","g":"B","x":1400,"y":315},{"p":"U9","g":"B","x":700,"y":310},{"p":"U9","g":"B","x":450,"y":303},
{"p":"U10","g":"A","x":1.0,"y":738},{"p":"U10","g":"A","x":1.1,"y":718},{"p":"U10","g":"A","x":1.15,"y":698},{"p":"U10","g":"A","x":1.2,"y":678},{"p":"U10","g":"A","x":1.25,"y":658},{"p":"U10","g":"A","x":1.4,"y":638},{"p":"U10","g":"A","x":1.5,"y":618},{"p":"U10","g":"A","x":1.7,"y":598},{"p":"U10","g":"A","x":1.95,"y":578},{"p":"U10","g":"A","x":2.1,"y":558},{"p":"U10","g":"A","x":2.4,"y":538},{"p":"U10","g":"A","x":2.7,"y":518},{"p":"U10","g":"A","x":3.0,"y":498},{"p":"U10","g":"A","x":3.5,"y":478},{"p":"U10","g":"A","x":4.5,"y":458},{"p":"U10","g":"A","x":6,"y":438},{"p":"U10","g":"A","x":9,"y":418},{"p":"U10","g":"A","x":14,"y":398},{"p":"U10","g":"A","x":12,"y":385},{"p":"U10","g":"A","x":15,"y":370},{"p":"U10","g":"A","x":11,"y":357},{"p":"U10","g":"A","x":8,"y":345},{"p":"U10","g":"A","x":10,"y":336},{"p":"U10","g":"A","x":25,"y":328},{"p":"U10","g":"A","x":70,"y":321},{"p":"U10","g":"A","x":150,"y":313},{"p":"U10","g":"A","x":90,"y":306},{"p":"U10","g":"A","x":60,"y":300},
{"p":"U11","g":"B","x":1.1,"y":750},{"p":"U11","g":"B","x":0.8,"y":735},{"p":"U11","g":"B","x":1.3,"y":720},{"p":"U11","g":"B","x":0.9,"y":705},{"p":"U11","g":"B","x":1.4,"y":690},{"p":"U11","g":"B","x":1.0,"y":675},{"p":"U11","g":"B","x":1.55,"y":660},{"p":"U11","g":"B","x":1.15,"y":645},{"p":"U11","g":"B","x":1.8,"y":630},{"p":"U11","g":"B","x":1.3,"y":615},{"p":"U11","g":"B","x":2.0,"y":600},{"p":"U11","g":"B","x":1.6,"y":585},{"p":"U11","g":"B","x":2.4,"y":570},{"p":"U11","g":"B","x":1.9,"y":555},{"p":"U11","g":"B","x":2.8,"y":540},{"p":"U11","g":"B","x":2.3,"y":525},{"p":"U11","g":"B","x":3.3,"y":510},{"p":"U11","g":"B","x":2.7,"y":495},{"p":"U11","g":"B","x":3.9,"y":480},{"p":"U11","g":"B","x":3.0,"y":465},{"p":"U11","g":"B","x":5.5,"y":450},{"p":"U11","g":"B","x":3.6,"y":435},{"p":"U11","g":"B","x":9,"y":420},{"p":"U11","g":"B","x":4.5,"y":405},{"p":"U11","g":"B","x":12,"y":390},{"p":"U11","g":"B","x":6,"y":378},{"p":"U11","g":"B","x":9,"y":366},{"p":"U11","g":"B","x":5,"y":352},{"p":"U11","g":"B","x":8,"y":342},
{"p":"U12","g":"A","x":0.75,"y":748},{"p":"U12","g":"A","x":1.0,"y":738},{"p":"U12","g":"A","x":0.8,"y":728},{"p":"U12","g":"A","x":1.05,"y":718},{"p":"U12","g":"A","x":0.85,"y":708},{"p":"U12","g":"A","x":1.1,"y":698},{"p":"U12","g":"A","x":0.9,"y":688},{"p":"U12","g":"A","x":1.2,"y":678},{"p":"U12","g":"A","x":0.95,"y":668},{"p":"U12","g":"A","x":1.25,"y":658},{"p":"U12","g":"A","x":1.0,"y":648},{"p":"U12","g":"A","x":1.35,"y":638},{"p":"U12","g":"A","x":1.1,"y":628},{"p":"U12","g":"A","x":1.45,"y":618},{"p":"U12","g":"A","x":1.25,"y":608},{"p":"U12","g":"A","x":1.6,"y":598},{"p":"U12","g":"A","x":1.4,"y":588},{"p":"U12","g":"A","x":1.8,"y":578},{"p":"U12","g":"A","x":1.6,"y":568},{"p":"U12","g":"A","x":2.0,"y":558},{"p":"U12","g":"A","x":1.8,"y":548},{"p":"U12","g":"A","x":2.3,"y":538},{"p":"U12","g":"A","x":2.1,"y":528},{"p":"U12","g":"A","x":2.6,"y":518},{"p":"U12","g":"A","x":2.4,"y":508},{"p":"U12","g":"A","x":2.9,"y":498},{"p":"U12","g":"A","x":2.6,"y":488},{"p":"U12","g":"A","x":3.4,"y":478},
{"p":"U13","g":"C","x":1.4,"y":750},{"p":"U13","g":"C","x":1.1,"y":740},{"p":"U13","g":"C","x":1.5,"y":730},{"p":"U13","g":"C","x":1.2,"y":720},{"p":"U13","g":"C","x":1.6,"y":710},{"p":"U13","g":"C","x":1.3,"y":700},{"p":"U13","g":"C","x":1.65,"y":690},{"p":"U13","g":"C","x":1.35,"y":680},{"p":"U13","g":"C","x":1.75,"y":670},{"p":"U13","g":"C","x":1.4,"y":660},{"p":"U13","g":"C","x":1.85,"y":650},{"p":"U13","g":"C","x":1.5,"y":640},{"p":"U13","g":"C","x":2.0,"y":630},{"p":"U13","g":"C","x":1.6,"y":620},{"p":"U13","g":"C","x":2.15,"y":610},{"p":"U13","g":"C","x":1.75,"y":600},{"p":"U13","g":"C","x":2.3,"y":590},{"p":"U13","g":"C","x":1.95,"y":580},{"p":"U13","g":"C","x":2.5,"y":570},{"p":"U13","g":"C","x":2.1,"y":560},{"p":"U13","g":"C","x":2.7,"y":550},{"p":"U13","g":"C","x":2.35,"y":540},{"p":"U13","g":"C","x":3.0,"y":530},{"p":"U13","g":"C","x":2.6,"y":520},{"p":"U13","g":"C","x":3.4,"y":510},{"p":"U13","g":"C","x":2.9,"y":500},{"p":"U13","g":"C","x":3.9,"y":490},{"p":"U13","g":"C","x":3.2,"y":480},{"p":"U13","g":"C","x":4.5,"y":470},
{"p":"U14","g":"B","x":0.95,"y":745},{"p":"U14","g":"B","x":1.2,"y":733},{"p":"U14","g":"B","x":1.0,"y":721},{"p":"U14","g":"B","x":1.3,"y":709},{"p":"U14","g":"B","x":1.05,"y":697},{"p":"U14","g":"B","x":1.35,"y":685},{"p":"U14","g":"B","x":1.1,"y":673},{"p":"U14","g":"B","x":1.45,"y":661},{"p":"U14","g":"B","x":1.2,"y":649},{"p":"U14","g":"B","x":1.55,"y":637},{"p":"U14","g":"B","x":1.3,"y":625},{"p":"U14","g":"B","x":1.65,"y":613},{"p":"U14","g":"B","x":1.45,"y":601},{"p":"U14","g":"B","x":1.85,"y":589},{"p":"U14","g":"B","x":1.6,"y":577},{"p":"U14","g":"B","x":2.05,"y":565},{"p":"U14","g":"B","x":1.85,"y":553},{"p":"U14","g":"B","x":2.3,"y":541},{"p":"U14","g":"B","x":2.1,"y":529},{"p":"U14","g":"B","x":2.6,"y":517},{"p":"U14","g":"B","x":2.4,"y":505},{"p":"U14","g":"B","x":3.0,"y":493},{"p":"U14","g":"B","x":2.8,"y":481},{"p":"U14","g":"B","x":3.6,"y":469},{"p":"U14","g":"B","x":3.3,"y":457},{"p":"U14","g":"B","x":4.5,"y":445},{"p":"U14","g":"B","x":3.6,"y":433},{"p":"U14","g":"B","x":6,"y":421},{"p":"U14","g":"B","x":4.2,"y":409},{"p":"U14","g":"B","x":8,"y":397},{"p":"U14","g":"B","x":5,"y":385},{"p":"U14","g":"B","x":9,"y":373},{"p":"U14","g":"B","x":6,"y":361},{"p":"U14","g":"B","x":10,"y":349},{"p":"U14","g":"B","x":7,"y":340},
{"p":"U15","g":"A","x":1.2,"y":742},{"p":"U15","g":"A","x":0.95,"y":734},{"p":"U15","g":"A","x":1.3,"y":726},{"p":"U15","g":"A","x":1.05,"y":718},{"p":"U15","g":"A","x":1.35,"y":710},{"p":"U15","g":"A","x":1.1,"y":702},{"p":"U15","g":"A","x":1.4,"y":694},{"p":"U15","g":"A","x":1.15,"y":686},{"p":"U15","g":"A","x":1.45,"y":678},{"p":"U15","g":"A","x":1.2,"y":670},{"p":"U15","g":"A","x":1.5,"y":662},{"p":"U15","g":"A","x":1.25,"y":654},{"p":"U15","g":"A","x":1.6,"y":646},{"p":"U15","g":"A","x":1.35,"y":638},{"p":"U15","g":"A","x":1.7,"y":630},{"p":"U15","g":"A","x":1.45,"y":622},{"p":"U15","g":"A","x":1.85,"y":614},{"p":"U15","g":"A","x":1.6,"y":606},{"p":"U15","g":"A","x":2.0,"y":598},{"p":"U15","g":"A","x":1.75,"y":590},{"p":"U15","g":"A","x":2.2,"y":582},{"p":"U15","g":"A","x":1.9,"y":574},{"p":"U15","g":"A","x":2.35,"y":566},{"p":"U15","g":"A","x":2.05,"y":558},{"p":"U15","g":"A","x":2.55,"y":550},{"p":"U15","g":"A","x":2.25,"y":542},{"p":"U15","g":"A","x":2.8,"y":534},{"p":"U15","g":"A","x":2.45,"y":526},{"p":"U15","g":"A","x":3.0,"y":518},
{"p":"L1","g":"B","x":2.0,"y":560},{"p":"L1","g":"B","x":2.3,"y":540},{"p":"L1","g":"B","x":2.6,"y":520},{"p":"L1","g":"B","x":2.9,"y":500},{"p":"L1","g":"B","x":3.2,"y":480},{"p":"L1","g":"B","x":3.8,"y":460},{"p":"L1","g":"B","x":5,"y":440},{"p":"L1","g":"B","x":7,"y":420},{"p":"L1","g":"B","x":10,"y":400},{"p":"L1","g":"B","x":9,"y":385},{"p":"L1","g":"B","x":11,"y":370},{"p":"L1","g":"B","x":8,"y":355},{"p":"L1","g":"B","x":9,"y":345},{"p":"L1","g":"B","x":12,"y":336},{"p":"L1","g":"B","x":30,"y":330},{"p":"L1","g":"B","x":100,"y":324},{"p":"L1","g":"B","x":300,"y":318},{"p":"L1","g":"B","x":200,"y":312},{"p":"L1","g":"B","x":120,"y":306},{"p":"L1","g":"B","x":60,"y":300},
{"p":"L2","g":"A","x":2.8,"y":520},{"p":"L2","g":"A","x":3.3,"y":500},{"p":"L2","g":"A","x":4,"y":480},{"p":"L2","g":"A","x":5.5,"y":460},{"p":"L2","g":"A","x":9,"y":440},{"p":"L2","g":"A","x":14,"y":420},{"p":"L2","g":"A","x":20,"y":405},{"p":"L2","g":"A","x":18,"y":390},{"p":"L2","g":"A","x":15,"y":375},{"p":"L2","g":"A","x":12,"y":360},{"p":"L2","g":"A","x":10,"y":348},{"p":"L2","g":"A","x":13,"y":338},{"p":"L2","g":"A","x":40,"y":331},{"p":"L2","g":"A","x":300,"y":325},{"p":"L2","g":"A","x":1000,"y":319},{"p":"L2","g":"A","x":700,"y":313},{"p":"L2","g":"A","x":400,"y":307},{"p":"L2","g":"A","x":250,"y":301},
{"p":"L3","g":"C","x":2.7,"y":500},{"p":"L3","g":"C","x":3.0,"y":480},{"p":"L3","g":"C","x":3.2,"y":460},{"p":"L3","g":"C","x":3.5,"y":440},{"p":"L3","g":"C","x":3.8,"y":420},{"p":"L3","g":"C","x":4.5,"y":400},{"p":"L3","g":"C","x":5,"y":385},{"p":"L3","g":"C","x":3.5,"y":370},{"p":"L3","g":"C","x":2.5,"y":358},{"p":"L3","g":"C","x":1.8,"y":350},{"p":"L3","g":"C","x":2.8,"y":342},{"p":"L3","g":"C","x":3.5,"y":334},{"p":"L3","g":"C","x":4,"y":326},{"p":"L3","g":"C","x":3,"y":318},{"p":"L3","g":"C","x":2.5,"y":310},{"p":"L3","g":"C","x":3.2,"y":303},
{"p":"L4","g":"A","x":3.5,"y":480},{"p":"L4","g":"A","x":4.5,"y":460},{"p":"L4","g":"A","x":6,"y":440},{"p":"L4","g":"A","x":9,"y":420},{"p":"L4","g":"A","x":12,"y":400},{"p":"L4","g":"A","x":14,"y":385},{"p":"L4","g":"A","x":17,"y":370},{"p":"L4","g":"A","x":16,"y":355},{"p":"L4","g":"A","x":14,"y":345},{"p":"L4","g":"A","x":18,"y":337},{"p":"L4","g":"A","x":60,"y":330},{"p":"L4","g":"A","x":400,"y":324},{"p":"L4","g":"A","x":1200,"y":318},{"p":"L4","g":"A","x":900,"y":312},{"p":"L4","g":"A","x":500,"y":305},
{"p":"L5","g":"B","x":3.0,"y":470},{"p":"L5","g":"B","x":3.6,"y":450},{"p":"L5","g":"B","x":4.2,"y":430},{"p":"L5","g":"B","x":5.5,"y":410},{"p":"L5","g":"B","x":7,"y":395},{"p":"L5","g":"B","x":9,"y":380},{"p":"L5","g":"B","x":8,"y":365},{"p":"L5","g":"B","x":6,"y":352},{"p":"L5","g":"B","x":5,"y":343},{"p":"L5","g":"B","x":7,"y":335},{"p":"L5","g":"B","x":15,"y":328},{"p":"L5","g":"B","x":40,"y":321},{"p":"L5","g":"B","x":80,"y":314},{"p":"L5","g":"B","x":50,"y":307},{"p":"L5","g":"B","x":30,"y":301},
{"p":"L6","g":"A","x":3.3,"y":460},{"p":"L6","g":"A","x":4.2,"y":440},{"p":"L6","g":"A","x":5.5,"y":420},{"p":"L6","g":"A","x":7.5,"y":400},{"p":"L6","g":"A","x":10,"y":385},{"p":"L6","g":"A","x":11,"y":370},{"p":"L6","g":"A","x":13,"y":355},{"p":"L6","g":"A","x":12,"y":345},{"p":"L6","g":"A","x":16,"y":337},{"p":"L6","g":"A","x":50,"y":331},{"p":"L6","g":"A","x":200,"y":325},{"p":"L6","g":"A","x":500,"y":319},{"p":"L6","g":"A","x":350,"y":313},{"p":"L6","g":"A","x":250,"y":307},{"p":"L6","g":"A","x":100,"y":302},
{"p":"L7","g":"D","x":3.1,"y":450},{"p":"L7","g":"D","x":3.4,"y":430},{"p":"L7","g":"D","x":3.9,"y":410},{"p":"L7","g":"D","x":4.5,"y":395},{"p":"L7","g":"D","x":5.2,"y":380},{"p":"L7","g":"D","x":5,"y":365},{"p":"L7","g":"D","x":4,"y":352},{"p":"L7","g":"D","x":3.5,"y":343},{"p":"L7","g":"D","x":4.5,"y":335},{"p":"L7","g":"D","x":6,"y":327},{"p":"L7","g":"D","x":5,"y":320},{"p":"L7","g":"D","x":4,"y":313},{"p":"L7","g":"D","x":6,"y":306},{"p":"L7","g":"D","x":8,"y":300},
{"p":"L9","g":"B","x":3.2,"y":440},{"p":"L9","g":"B","x":4,"y":420},{"p":"L9","g":"B","x":5.5,"y":400},{"p":"L9","g":"B","x":6,"y":385},{"p":"L9","g":"B","x":7,"y":370},{"p":"L9","g":"B","x":9,"y":355},{"p":"L9","g":"B","x":10,"y":345},{"p":"L9","g":"B","x":15,"y":338},{"p":"L9","g":"B","x":30,"y":332},{"p":"L9","g":"B","x":150,"y":326},{"p":"L9","g":"B","x":600,"y":320},{"p":"L9","g":"B","x":1000,"y":314},{"p":"L9","g":"B","x":600,"y":308},{"p":"L9","g":"B","x":300,"y":303},
{"p":"L10","g":"C","x":2.2,"y":540},{"p":"L10","g":"C","x":2.6,"y":520},{"p":"L10","g":"C","x":3.0,"y":505},{"p":"L10","g":"C","x":4,"y":460},{"p":"L10","g":"C","x":5,"y":440},{"p":"L10","g":"C","x":7,"y":420},{"p":"L10","g":"C","x":9,"y":400},{"p":"L10","g":"C","x":12,"y":380},{"p":"L10","g":"C","x":10,"y":360},{"p":"L10","g":"C","x":8,"y":345},{"p":"L10","g":"C","x":12,"y":335},{"p":"L10","g":"C","x":40,"y":328},{"p":"L10","g":"C","x":200,"y":322},{"p":"L10","g":"C","x":700,"y":316},{"p":"L10","g":"C","x":900,"y":312},{"p":"L10","g":"C","x":2200,"y":307},
{"p":"L11","g":"B","x":4.2,"y":400},{"p":"L11","g":"B","x":4.8,"y":385},{"p":"L11","g":"B","x":5.5,"y":370},{"p":"L11","g":"B","x":5,"y":355},{"p":"L11","g":"B","x":6,"y":345},{"p":"L11","g":"B","x":8,"y":338},{"p":"L11","g":"B","x":20,"y":332},{"p":"L11","g":"B","x":80,"y":327},{"p":"L11","g":"B","x":300,"y":322},{"p":"L11","g":"B","x":800,"y":317},{"p":"L11","g":"B","x":600,"y":312},{"p":"L11","g":"B","x":350,"y":306},{"p":"L11","g":"B","x":200,"y":300},
{"p":"L12","g":"A","x":4.5,"y":380},{"p":"L12","g":"A","x":3.8,"y":365},{"p":"L12","g":"A","x":2.8,"y":355},{"p":"L12","g":"A","x":2.2,"y":348},{"p":"L12","g":"A","x":2.5,"y":340},{"p":"L12","g":"A","x":3.2,"y":333},{"p":"L12","g":"A","x":3.5,"y":326},{"p":"L12","g":"A","x":2.6,"y":319},{"p":"L12","g":"A","x":2.2,"y":312},{"p":"L12","g":"A","x":3.0,"y":306},{"p":"L12","g":"A","x":4,"y":300},
{"p":"L13","g":"A","x":3.6,"y":430},{"p":"L13","g":"A","x":4.6,"y":410},{"p":"L13","g":"A","x":5.8,"y":395},{"p":"L13","g":"A","x":7.5,"y":380},{"p":"L13","g":"A","x":9.5,"y":365},{"p":"L13","g":"A","x":11,"y":352},{"p":"L13","g":"A","x":12,"y":342},{"p":"L13","g":"A","x":25,"y":335},{"p":"L13","g":"A","x":90,"y":329},{"p":"L13","g":"A","x":500,"y":323},{"p":"L13","g":"A","x":1300,"y":317},{"p":"L13","g":"A","x":1000,"y":311},{"p":"L13","g":"A","x":600,"y":305},{"p":"L13","g":"A","x":400,"y":300},
{"p":"L14","g":"B","x":3.0,"y":360},{"p":"L14","g":"B","x":2.0,"y":350},{"p":"L14","g":"B","x":2.6,"y":343},{"p":"L14","g":"B","x":3.8,"y":336},{"p":"L14","g":"B","x":5,"y":330},{"p":"L14","g":"B","x":8,"y":323},{"p":"L14","g":"B","x":12,"y":316},{"p":"L14","g":"B","x":9,"y":309},{"p":"L14","g":"B","x":14,"y":303},{"p":"L14","g":"B","x":20,"y":300},
{"p":"L15","g":"A","x":5,"y":390},{"p":"L15","g":"A","x":6.2,"y":375},{"p":"L15","g":"A","x":7.5,"y":360},{"p":"L15","g":"A","x":6.5,"y":348},{"p":"L15","g":"A","x":7,"y":340},{"p":"L15","g":"A","x":10,"y":334},{"p":"L15","g":"A","x":25,"y":328},{"p":"L15","g":"A","x":60,"y":321},{"p":"L15","g":"A","x":130,"y":314},{"p":"L15","g":"A","x":80,"y":307},{"p":"L15","g":"A","x":45,"y":301},
{"p":"L16","g":"A","x":3.3,"y":420},{"p":"L16","g":"A","x":3.8,"y":405},{"p":"L16","g":"A","x":4.5,"y":390},{"p":"L16","g":"A","x":5.5,"y":375},{"p":"L16","g":"A","x":4.5,"y":360},{"p":"L16","g":"A","x":3.2,"y":350},{"p":"L16","g":"A","x":3.8,"y":342},{"p":"L16","g":"A","x":5.5,"y":335},{"p":"L16","g":"A","x":12,"y":328},{"p":"L16","g":"A","x":35,"y":321},{"p":"L16","g":"A","x":60,"y":314},{"p":"L16","g":"A","x":35,"y":307},{"p":"L16","g":"A","x":20,"y":300},
{"p":"L17","g":"B","x":3.4,"y":450},{"p":"L17","g":"B","x":4.4,"y":430},{"p":"L17","g":"B","x":6.5,"y":410},{"p":"L17","g":"B","x":9,"y":395},{"p":"L17","g":"B","x":11,"y":380},{"p":"L17","g":"B","x":13,"y":365},{"p":"L17","g":"B","x":15,"y":352},{"p":"L17","g":"B","x":17,"y":343},{"p":"L17","g":"B","x":25,"y":336},{"p":"L17","g":"B","x":120,"y":330},{"p":"L17","g":"B","x":700,"y":324},{"p":"L17","g":"B","x":1600,"y":319},{"p":"L17","g":"B","x":1100,"y":313},{"p":"L17","g":"B","x":700,"y":307},{"p":"L17","g":"B","x":450,"y":301},
{"p":"L18","g":"C","x":6,"y":380},{"p":"L18","g":"C","x":5,"y":368},{"p":"L18","g":"C","x":3.5,"y":356},{"p":"L18","g":"C","x":2.6,"y":346},{"p":"L18","g":"C","x":3.4,"y":338},{"p":"L18","g":"C","x":4.5,"y":330},{"p":"L18","g":"C","x":3.8,"y":322},{"p":"L18","g":"C","x":3.0,"y":314},{"p":"L18","g":"C","x":4.5,"y":307},{"p":"L18","g":"C","x":6,"y":301},
{"p":"L19","g":"B","x":3.5,"y":450},{"p":"L19","g":"B","x":6,"y":440},{"p":"L19","g":"B","x":4,"y":430},{"p":"L19","g":"B","x":9,"y":420},{"p":"L19","g":"B","x":5,"y":410},{"p":"L19","g":"B","x":14,"y":400},{"p":"L19","g":"B","x":6,"y":390},{"p":"L19","g":"B","x":18,"y":380},{"p":"L19","g":"B","x":7,"y":370},{"p":"L19","g":"B","x":15,"y":360},{"p":"L19","g":"B","x":6,"y":350},{"p":"L19","g":"B","x":12,"y":342},{"p":"L19","g":"B","x":30,"y":336},{"p":"L19","g":"B","x":200,"y":330},
{"p":"L20","g":"A","x":4,"y":440},{"p":"L20","g":"A","x":7,"y":430},{"p":"L20","g":"A","x":5,"y":420},{"p":"L20","g":"A","x":11,"y":410},{"p":"L20","g":"A","x":6.5,"y":400},{"p":"L20","g":"A","x":16,"y":390},{"p":"L20","g":"A","x":8,"y":380},{"p":"L20","g":"A","x":20,"y":370},{"p":"L20","g":"A","x":9,"y":360},{"p":"L20","g":"A","x":17,"y":350},{"p":"L20","g":"A","x":8,"y":342},{"p":"L20","g":"A","x":20,"y":336},{"p":"L20","g":"A","x":60,"y":330},{"p":"L20","g":"A","x":300,"y":325},{"p":"L20","g":"A","x":900,"y":320},
{"p":"L21","g":"A","x":4,"y":470},{"p":"L21","g":"A","x":6,"y":455},{"p":"L21","g":"A","x":10,"y":440},{"p":"L21","g":"A","x":16,"y":425},{"p":"L21","g":"A","x":22,"y":410},{"p":"L21","g":"A","x":26,"y":398},{"p":"L21","g":"A","x":20,"y":385},{"p":"L21","g":"A","x":18,"y":372},{"p":"L21","g":"A","x":14,"y":360},{"p":"L21","g":"A","x":12,"y":350},{"p":"L21","g":"A","x":15,"y":342},{"p":"L21","g":"A","x":40,"y":336},{"p":"L21","g":"A","x":250,"y":330},{"p":"L21","g":"A","x":900,"y":324},{"p":"L21","g":"A","x":1300,"y":318},{"p":"L21","g":"A","x":800,"y":312},{"p":"L21","g":"A","x":500,"y":306},{"p":"L21","g":"A","x":300,"y":300},
{"p":"L22","g":"C","x":3.8,"y":460},{"p":"L22","g":"C","x":5.5,"y":445},{"p":"L22","g":"C","x":9,"y":430},{"p":"L22","g":"C","x":13,"y":415},{"p":"L22","g":"C","x":17,"y":402},{"p":"L22","g":"C","x":13,"y":390},{"p":"L22","g":"C","x":11,"y":378},{"p":"L22","g":"C","x":9.5,"y":366},{"p":"L22","g":"C","x":8,"y":354},{"p":"L22","g":"C","x":7,"y":345},{"p":"L22","g":"C","x":9,"y":337},{"p":"L22","g":"C","x":20,"y":330},
{"p":"V1","g":"D","x":3,"y":520},{"p":"V1","g":"D","x":3.5,"y":507},{"p":"V1","g":"D","x":15,"y":505},{"p":"V1","g":"D","x":35,"y":503},{"p":"V1","g":"D","x":45,"y":498},{"p":"V1","g":"D","x":40,"y":490},{"p":"V1","g":"D","x":35,"y":484},{"p":"V1","g":"D","x":12,"y":480},{"p":"V1","g":"D","x":5,"y":477},{"p":"V1","g":"D","x":4.5,"y":470},{"p":"V1","g":"D","x":5,"y":460},{"p":"V1","g":"D","x":6,"y":450},{"p":"V1","g":"D","x":9,"y":430},{"p":"V1","g":"D","x":10,"y":410},{"p":"V1","g":"D","x":9,"y":395},{"p":"V1","g":"D","x":8,"y":380},{"p":"V1","g":"D","x":7,"y":365},{"p":"V1","g":"D","x":6,"y":350},{"p":"V1","g":"D","x":7,"y":340},{"p":"V1","g":"D","x":20,"y":330},{"p":"V1","g":"D","x":100,"y":322},{"p":"V1","g":"D","x":250,"y":315},{"p":"V1","g":"D","x":150,"y":308},{"p":"V1","g":"D","x":100,"y":302},
{"p":"V2","g":"B","x":5,"y":470},{"p":"V2","g":"B","x":8,"y":455},{"p":"V2","g":"B","x":15,"y":445},{"p":"V2","g":"B","x":30,"y":438},{"p":"V2","g":"B","x":40,"y":430},{"p":"V2","g":"B","x":45,"y":420},{"p":"V2","g":"B","x":50,"y":410},{"p":"V2","g":"B","x":40,"y":400},{"p":"V2","g":"B","x":45,"y":392},{"p":"V2","g":"B","x":25,"y":385},{"p":"V2","g":"B","x":12,"y":378},{"p":"V2","g":"B","x":10,"y":365},{"p":"V2","g":"B","x":9,"y":350},{"p":"V2","g":"B","x":11,"y":340},{"p":"V2","g":"B","x":30,"y":332},{"p":"V2","g":"B","x":200,"y":324},{"p":"V2","g":"B","x":400,"y":317},{"p":"V2","g":"B","x":250,"y":310},{"p":"V2","g":"B","x":150,"y":303},
{"p":"V3","g":"C","x":6,"y":450},{"p":"V3","g":"C","x":12,"y":440},{"p":"V3","g":"C","x":25,"y":430},{"p":"V3","g":"C","x":35,"y":420},{"p":"V3","g":"C","x":45,"y":412},{"p":"V3","g":"C","x":55,"y":405},{"p":"V3","g":"C","x":50,"y":398},{"p":"V3","g":"C","x":30,"y":390},{"p":"V3","g":"C","x":15,"y":380},{"p":"V3","g":"C","x":12,"y":368},{"p":"V3","g":"C","x":9,"y":355},{"p":"V3","g":"C","x":8,"y":345},{"p":"V3","g":"C","x":10,"y":337},{"p":"V3","g":"C","x":30,"y":329},{"p":"V3","g":"C","x":100,"y":322},
{"p":"S1","g":"A","x":0.1,"y":720},{"p":"S1","g":"A","x":0.65,"y":720},{"p":"S1","g":"A","x":0.9,"y":721},{"p":"S1","g":"A","x":1.1,"y":716},
{"p":"S2","g":"B","x":0.1,"y":665},{"p":"S2","g":"B","x":0.65,"y":665},{"p":"S2","g":"B","x":1.0,"y":662},{"p":"S2","g":"B","x":1.2,"y":657},
{"p":"S3","g":"C","x":0.21,"y":715},{"p":"S3","g":"C","x":0.4,"y":710},{"p":"S3","g":"C","x":0.6,"y":705},{"p":"S3","g":"C","x":0.9,"y":703},{"p":"S3","g":"C","x":1.1,"y":700},
{"p":"S4","g":"A","x":0.21,"y":701},{"p":"S4","g":"A","x":0.39,"y":696},{"p":"S4","g":"A","x":0.4,"y":689},{"p":"S4","g":"A","x":0.78,"y":688},{"p":"S4","g":"A","x":1.0,"y":686},
{"p":"S5","g":"C","x":0.41,"y":737},{"p":"S5","g":"C","x":0.55,"y":735},{"p":"S5","g":"C","x":0.75,"y":733},{"p":"S5","g":"C","x":0.9,"y":730},
{"p":"S6","g":"A","x":0.5,"y":673},{"p":"S6","g":"A","x":0.9,"y":675},{"p":"S6","g":"A","x":1.1,"y":670},
{"p":"D1","g":"D","x":0.1,"y":325},{"p":"D1","g":"D","x":0.5,"y":325},{"p":"D1","g":"D","x":2,"y":327},{"p":"D1","g":"D","x":4,"y":330},
{"p":"D2","g":"D","x":0.1,"y":315},{"p":"D2","g":"D","x":0.45,"y":315},{"p":"D2","g":"D","x":1.5,"y":316},{"p":"D2","g":"D","x":3,"y":318}
]},
"hconcat":[
{"width":300,"height":335,
"title":{"text":"a","frame":"group","dx":-59,"offset":20},
"layer":[
{"data":{"name":"left"},"mark":{"type":"line","strokeWidth":1.4,"clip":true},
"encoding":{
"x":{"field":"x","type":"quantitative","scale":{"type":"log","domain":[0.1,10000]},"axis":{"values":[0.1,1,10,100,1000,10000],"labelExpr":"datum.value < 0.5 ? '10⁻¹' : datum.value < 5 ? '10⁰' : datum.value < 50 ? '10¹' : datum.value < 500 ? '10²' : datum.value < 5000 ? '10³' : '10⁴'","tickSize":8,"offset":5,"labelPadding":20,"labelFlush":false,"labelOverlap":false,"title":"Particle Concentration (#/cm³, Dₚ > 140 nm)","titlePadding":3}},
"y":{"field":"y","type":"quantitative","scale":{"domain":[-15,20],"nice":false,"zero":false},"axis":{"orient":"left","values":[-15,-10,-5,0,5,10,15,20],"tickSize":10,"labelOverlap":false,"offset":4,"labelPadding":4,"title":"Altitude above Lapse Rate Tropopause (km)","titlePadding":20}},
"color":{"field":"s","type":"nominal","scale":{"domain":["JJA","DJF"],"range":["#ff0000","#0a2aff"]},"legend":null},
"strokeDash":{"field":"s","type":"nominal","scale":{"domain":["JJA","DJF"],"range":[[10,5],[1,0]]},"legend":{"title":null,"orient":"none","legendX":177,"legendY":78,"symbolType":"stroke","symbolSize":729,"symbolStrokeWidth":1.5,"labelFontSize":15,"labelOffset":8,"rowPadding":-15,"labelExpr":"datum.label == 'JJA' ? 'Jun-Jul-Aug' : 'Dec-Jan-Feb'","encode":{"symbols":{"update":{"stroke":{"signal":"datum.value == 'JJA' ? '#ff0000' : '#0a2aff'"}}}}}},
"detail":{"field":"p"},
"order":{"value":null}}},
{"data":{"values":[{"t":"Tropopause","y":0}]},"mark":{"type":"rule","strokeWidth":5,"strokeDash":[5.5,6.9]},
"encoding":{"y":{"field":"y","type":"quantitative","axis":{"orient":"left","values":[-15,-14,-13,-12,-11,-10,-9,-8,-7,-6,-5,-4,-3,-2,-1,0,1,2,3,4,5,6,7,8,9,10,11,12,13,14,15,16,17,18,19,20],"tickSize":5,"labels":false,"domain":false,"title":null,"offset":4}},
"color":{"field":"t","type":"nominal","scale":{"domain":["Tropopause"],"range":["#000000"]},"legend":{"title":null,"orient":"none","legendX":177,"legendY":131,"symbolType":"stroke","symbolSize":729,"symbolStrokeWidth":5,"symbolDash":[6,5.5],"labelFontSize":15,"labelOffset":8}}}},
{"data":{"values":[{"x":3.7,"y":16.6,"t":"No volcanic profiles included"}]},"mark":{"type":"text","align":"left","baseline":"middle","fontSize":15,"color":"black"},
"encoding":{"x":{"field":"x","type":"quantitative"},"y":{"field":"y","type":"quantitative","axis":null},"text":{"field":"t"}}}
],
"resolve":{"scale":{"color":"independent"},"legend":{"color":"independent"},"axis":{"y":"independent"}}
},
{"width":302,"height":335,
"title":{"text":"b","frame":"group","dx":-57,"offset":28},
"layer":[
{"data":{"name":"right"},"mark":{"type":"line","strokeWidth":1.3,"color":"#8c8c8c","clip":true},
"encoding":{
"x":{"field":"x","type":"quantitative","scale":{"type":"log","domain":[0.1,10000]},"axis":{"values":[0.1,1,10,100,1000,10000],"labelExpr":"datum.value < 0.5 ? '10⁻¹' : datum.value < 5 ? '10⁰' : datum.value < 50 ? '10¹' : datum.value < 500 ? '10²' : datum.value < 5000 ? '10³' : '10⁴'","tickSize":8,"offset":5,"labelPadding":20,"labelFlush":false,"labelOverlap":false,"title":"Particle Concentration (#/cm³, Dₚ > 140 nm)","titlePadding":3}},
"y":{"field":"y","type":"quantitative","scale":{"domain":[300,750],"nice":false,"zero":false},"axis":{"orient":"left","values":[300,400,500,600,700],"tickSize":10,"labelOverlap":false,"offset":4,"labelPadding":4,"title":"Potential Temperature, θ (K)","titlePadding":20}},
"strokeDash":{"field":"g","type":"nominal","scale":{"domain":["A","B","C","D"],"range":[[1,0],[5,3],[1.5,2],[7,3,2,3]]},"legend":null},
"detail":{"field":"p"},
"order":{"value":null}}},
{"data":{"values":[{"y":550},{"y":450},{"y":380}]},"mark":{"type":"rule","color":"#777777","strokeWidth":1.5,"strokeDash":[7,5]},
"encoding":{"y":{"field":"y","type":"quantitative","axis":{"orient":"left","values":[300,310,320,330,340,350,360,370,380,390,400,410,420,430,440,450,460,470,480,490,500,510,520,530,540,550,560,570,580,590,600,610,620,630,640,650,660,670,680,690,700,710,720,730,740,750],"tickSize":5,"labels":false,"domain":false,"title":null,"offset":4}}}},
{"data":{"values":[{"x":40,"y":481},{"x":145,"y":464},{"x":63,"y":415}]},"mark":{"type":"line","color":"black","strokeWidth":1.5},
"encoding":{"x":{"field":"x","type":"quantitative"},"y":{"field":"y","type":"quantitative","axis":null},"order":{"value":null}}},
{"data":{"values":[{"x":0.184,"y":493,"t":"MS"},{"x":0.214,"y":409,"t":"LS"}]},"mark":{"type":"text","align":"left","baseline":"middle","fontSize":14,"color":"black"},
"encoding":{"x":{"field":"x","type":"quantitative"},"y":{"field":"y","type":"quantitative","axis":null},"text":{"field":"t"}}},
{"data":{"values":[{"x":225,"y":469,"t":"Volcanic aerosol"}]},"mark":{"type":"text","align":"left","baseline":"middle","fontSize":15,"color":"black"},
"encoding":{"x":{"field":"x","type":"quantitative"},"y":{"field":"y","type":"quantitative","axis":null},"text":{"field":"t"}}}
],
"resolve":{"axis":{"y":"independent"}}
}
]
}
